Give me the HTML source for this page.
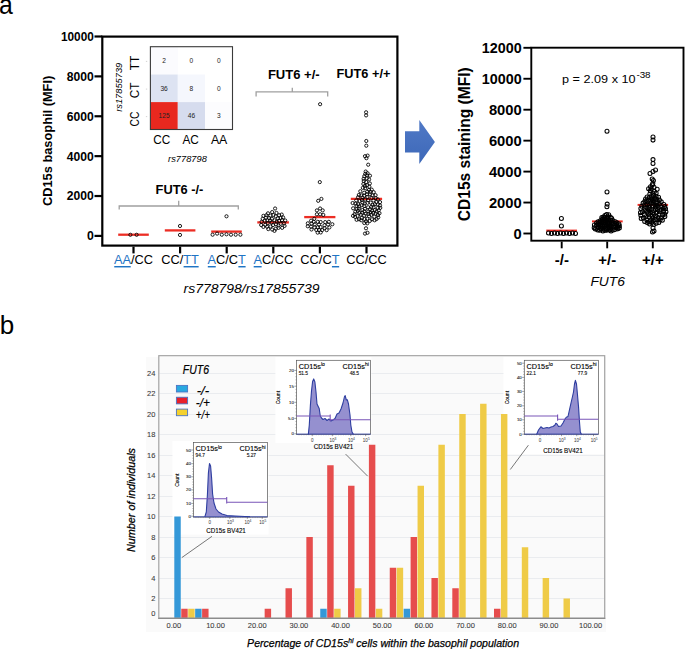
<!DOCTYPE html>
<html><head><meta charset="utf-8"><style>
html,body{margin:0;padding:0;background:#fff;}
svg{display:block;font-family:"Liberation Sans", sans-serif;}
</style></head><body>
<svg width="685" height="649" viewBox="0 0 685 649">
<rect width="685" height="649" fill="#fff"/>
<text x="-0.90" y="14.05" font-size="27" textLength="13.80" lengthAdjust="spacingAndGlyphs">a</text>
<text x="-0.20" y="333.90" font-size="26">b</text>
<text x="51.90" y="140.90" font-size="13.4" font-weight="bold" text-anchor="middle" textLength="130.30" lengthAdjust="spacingAndGlyphs" transform="rotate(-90 51.90 140.90)">CD15s basophil (MFI)</text>
<line x1="94.50" y1="36.50" x2="102.30" y2="36.50" stroke="#000" stroke-width="2.2"/>
<text x="93.80" y="40.90" font-size="12.3" font-weight="bold" text-anchor="end" textLength="32.90" lengthAdjust="spacingAndGlyphs">10000</text>
<line x1="94.50" y1="76.38" x2="102.30" y2="76.38" stroke="#000" stroke-width="2.2"/>
<text x="93.80" y="80.78" font-size="12.3" font-weight="bold" text-anchor="end" textLength="27.00" lengthAdjust="spacingAndGlyphs">8000</text>
<line x1="94.50" y1="116.26" x2="102.30" y2="116.26" stroke="#000" stroke-width="2.2"/>
<text x="93.80" y="120.66" font-size="12.3" font-weight="bold" text-anchor="end" textLength="27.00" lengthAdjust="spacingAndGlyphs">6000</text>
<line x1="94.50" y1="156.14" x2="102.30" y2="156.14" stroke="#000" stroke-width="2.2"/>
<text x="93.80" y="160.54" font-size="12.3" font-weight="bold" text-anchor="end" textLength="27.00" lengthAdjust="spacingAndGlyphs">4000</text>
<line x1="94.50" y1="196.02" x2="102.30" y2="196.02" stroke="#000" stroke-width="2.2"/>
<text x="93.80" y="200.42" font-size="12.3" font-weight="bold" text-anchor="end" textLength="27.00" lengthAdjust="spacingAndGlyphs">2000</text>
<line x1="94.50" y1="235.90" x2="102.30" y2="235.90" stroke="#000" stroke-width="2.2"/>
<text x="93.80" y="240.30" font-size="12.3" font-weight="bold" text-anchor="end">0</text>
<rect x="102.30" y="36.60" width="295.10" height="209.00" fill="none" stroke="#000" stroke-width="2.2"/>
<line x1="133.50" y1="246.70" x2="133.50" y2="253.40" stroke="#000" stroke-width="2.2"/>
<line x1="180.10" y1="246.70" x2="180.10" y2="253.40" stroke="#000" stroke-width="2.2"/>
<line x1="226.70" y1="246.70" x2="226.70" y2="253.40" stroke="#000" stroke-width="2.2"/>
<line x1="273.30" y1="246.70" x2="273.30" y2="253.40" stroke="#000" stroke-width="2.2"/>
<line x1="319.90" y1="246.70" x2="319.90" y2="253.40" stroke="#000" stroke-width="2.2"/>
<line x1="366.50" y1="246.70" x2="366.50" y2="253.40" stroke="#000" stroke-width="2.2"/>
<text x="133.50" y="264.30" font-size="12.8" text-anchor="middle"><tspan fill="#1f74c4">AA</tspan>/CC</text>
<rect x="114.24" y="266.00" width="16.47" height="1.45" fill="#1f74c4"/>
<text x="180.10" y="264.30" font-size="12.8" text-anchor="middle">CC/<tspan fill="#1f74c4">TT</tspan></text>
<rect x="183.60" y="266.00" width="15.04" height="1.45" fill="#1f74c4"/>
<text x="226.70" y="264.30" font-size="12.8" text-anchor="middle"><tspan fill="#1f74c4">A</tspan>C/C<tspan fill="#1f74c4">T</tspan></text>
<rect x="207.80" y="266.00" width="7.94" height="1.45" fill="#1f74c4"/>
<rect x="238.38" y="266.00" width="7.22" height="1.45" fill="#1f74c4"/>
<text x="273.30" y="264.30" font-size="12.8" text-anchor="middle"><tspan fill="#1f74c4">A</tspan>C/CC</text>
<rect x="253.69" y="266.00" width="7.94" height="1.45" fill="#1f74c4"/>
<text x="319.90" y="264.30" font-size="12.8" text-anchor="middle">CC/C<tspan fill="#1f74c4">T</tspan></text>
<rect x="331.93" y="266.00" width="7.22" height="1.45" fill="#1f74c4"/>
<text x="366.50" y="264.30" font-size="12.8" text-anchor="middle">CC/CC</text>
<text x="251.60" y="292.60" font-size="13.7" font-style="italic" text-anchor="middle" textLength="136.00" lengthAdjust="spacingAndGlyphs">rs778798/rs17855739</text>
<rect x="150.40" y="46.70" width="27.40" height="27.80" fill="#fbfbfe"/>
<text x="164.10" y="63.00" font-size="6.6" text-anchor="middle" fill="#222">2</text>
<rect x="177.80" y="46.70" width="27.20" height="27.80" fill="#ffffff"/>
<text x="191.40" y="63.00" font-size="6.6" text-anchor="middle" fill="#222">0</text>
<rect x="205.00" y="46.70" width="27.50" height="27.80" fill="#ffffff"/>
<text x="218.75" y="63.00" font-size="6.6" text-anchor="middle" fill="#222">0</text>
<rect x="150.40" y="74.50" width="27.40" height="27.60" fill="#dde3f2"/>
<text x="164.10" y="90.70" font-size="6.6" text-anchor="middle" fill="#222">36</text>
<rect x="177.80" y="74.50" width="27.20" height="27.60" fill="#f5f7fd"/>
<text x="191.40" y="90.70" font-size="6.6" text-anchor="middle" fill="#222">8</text>
<rect x="205.00" y="74.50" width="27.50" height="27.60" fill="#ffffff"/>
<text x="218.75" y="90.70" font-size="6.6" text-anchor="middle" fill="#222">0</text>
<rect x="150.40" y="102.10" width="27.40" height="27.40" fill="#e8281f"/>
<text x="164.10" y="118.20" font-size="6.6" text-anchor="middle" fill="#222">125</text>
<rect x="177.80" y="102.10" width="27.20" height="27.40" fill="#d6dcee"/>
<text x="191.40" y="118.20" font-size="6.6" text-anchor="middle" fill="#222">46</text>
<rect x="205.00" y="102.10" width="27.50" height="27.40" fill="#fcfcfe"/>
<text x="218.75" y="118.20" font-size="6.6" text-anchor="middle" fill="#222">3</text>
<rect x="150.40" y="46.70" width="82.10" height="82.80" fill="none" stroke="#3a3a3a" stroke-width="1.1"/>
<text x="138.80" y="63.00" font-size="12.0" text-anchor="middle" textLength="14.40" lengthAdjust="spacingAndGlyphs" transform="rotate(-90 138.80 63.00)">TT</text>
<line x1="145.90" y1="61.40" x2="147.20" y2="61.40" stroke="#c8c8c8" stroke-width="0.8"/>
<text x="138.80" y="90.50" font-size="12.0" text-anchor="middle" textLength="15.60" lengthAdjust="spacingAndGlyphs" transform="rotate(-90 138.80 90.50)">CT</text>
<line x1="145.90" y1="89.10" x2="147.20" y2="89.10" stroke="#c8c8c8" stroke-width="0.8"/>
<text x="138.80" y="119.00" font-size="12.0" text-anchor="middle" textLength="15.00" lengthAdjust="spacingAndGlyphs" transform="rotate(-90 138.80 119.00)">CC</text>
<line x1="145.90" y1="116.60" x2="147.20" y2="116.60" stroke="#c8c8c8" stroke-width="0.8"/>
<text x="161.80" y="143.60" font-size="12.2" text-anchor="middle" textLength="17.00" lengthAdjust="spacingAndGlyphs">CC</text>
<text x="190.60" y="143.60" font-size="12.2" text-anchor="middle" textLength="16.40" lengthAdjust="spacingAndGlyphs">AC</text>
<text x="219.10" y="143.60" font-size="12.2" text-anchor="middle" textLength="16.40" lengthAdjust="spacingAndGlyphs">AA</text>
<text x="121.60" y="87.30" font-size="9.3" font-style="italic" text-anchor="middle" transform="rotate(-90 121.60 87.30)">rs17855739</text>
<text x="187.50" y="161.80" font-size="9.3" font-style="italic" text-anchor="middle">rs778798</text>
<path d="M119.20 209.60 V206.00 H238.30 V209.60 M178.70 206.00 V200.80" fill="none" stroke="#a0a0a0" stroke-width="1.3"/>
<path d="M256.10 96.60 V91.90 H327.70 V96.60 M292.30 91.90 V87.80" fill="none" stroke="#a0a0a0" stroke-width="1.3"/>
<text x="179.50" y="193.80" font-size="13.6" font-weight="bold" text-anchor="middle" textLength="47.80" lengthAdjust="spacingAndGlyphs">FUT6 -/-</text>
<text x="293.80" y="78.60" font-size="13.6" font-weight="bold" text-anchor="middle" textLength="51.80" lengthAdjust="spacingAndGlyphs">FUT6 +/-</text>
<text x="363.50" y="77.50" font-size="13.7" font-weight="bold" text-anchor="middle" textLength="53.80" lengthAdjust="spacingAndGlyphs">FUT6 +/+</text>
<path d="M118.2 234.7 H148.8" stroke="#ec2d24" stroke-width="2.3"/>
<path d="M164.8 230.4 H195.4" stroke="#ec2d24" stroke-width="2.3"/>
<path d="M211.2 231.6 H241.8" stroke="#ec2d24" stroke-width="2.3"/>
<path d="M257.3 222.4 H288.9" stroke="#ec2d24" stroke-width="2.3"/>
<path d="M304.2 217.1 H335.4" stroke="#ec2d24" stroke-width="2.3"/>
<path d="M350.8 198.8 H382.1" stroke="#ec2d24" stroke-width="2.3"/>
<circle cx="130.40" cy="234.80" r="1.6" fill="none" stroke="#000" stroke-width="0.88"/>
<circle cx="136.60" cy="234.80" r="1.6" fill="none" stroke="#000" stroke-width="0.88"/>
<circle cx="180.00" cy="226.00" r="1.6" fill="none" stroke="#000" stroke-width="0.88"/>
<circle cx="180.00" cy="234.95" r="1.6" fill="none" stroke="#000" stroke-width="0.88"/>
<circle cx="226.50" cy="216.30" r="1.6" fill="none" stroke="#000" stroke-width="0.88"/>
<circle cx="212.60" cy="234.70" r="1.6" fill="none" stroke="#000" stroke-width="0.88"/>
<circle cx="217.10" cy="233.60" r="1.6" fill="none" stroke="#000" stroke-width="0.88"/>
<circle cx="221.80" cy="234.70" r="1.6" fill="none" stroke="#000" stroke-width="0.88"/>
<circle cx="226.50" cy="234.30" r="1.6" fill="none" stroke="#000" stroke-width="0.88"/>
<circle cx="231.00" cy="234.70" r="1.6" fill="none" stroke="#000" stroke-width="0.88"/>
<circle cx="235.70" cy="234.70" r="1.6" fill="none" stroke="#000" stroke-width="0.88"/>
<circle cx="240.40" cy="234.70" r="1.6" fill="none" stroke="#000" stroke-width="0.88"/>
<circle cx="275.10" cy="208.50" r="1.6" fill="none" stroke="#000" stroke-width="0.88"/>
<circle cx="274.65" cy="220.32" r="1.6" fill="none" stroke="#000" stroke-width="0.88"/>
<circle cx="272.21" cy="229.52" r="1.6" fill="none" stroke="#000" stroke-width="0.88"/>
<circle cx="273.41" cy="215.10" r="1.6" fill="none" stroke="#000" stroke-width="0.88"/>
<circle cx="280.72" cy="223.78" r="1.6" fill="none" stroke="#000" stroke-width="0.88"/>
<circle cx="267.99" cy="213.34" r="1.6" fill="none" stroke="#000" stroke-width="0.88"/>
<circle cx="261.19" cy="225.02" r="1.6" fill="none" stroke="#000" stroke-width="0.88"/>
<circle cx="276.10" cy="224.25" r="1.6" fill="none" stroke="#000" stroke-width="0.88"/>
<circle cx="261.65" cy="221.80" r="1.6" fill="none" stroke="#000" stroke-width="0.88"/>
<circle cx="266.39" cy="215.21" r="1.6" fill="none" stroke="#000" stroke-width="0.88"/>
<circle cx="272.16" cy="212.09" r="1.6" fill="none" stroke="#000" stroke-width="0.88"/>
<circle cx="282.00" cy="220.09" r="1.6" fill="none" stroke="#000" stroke-width="0.88"/>
<circle cx="276.75" cy="221.62" r="1.6" fill="none" stroke="#000" stroke-width="0.88"/>
<circle cx="267.33" cy="220.42" r="1.6" fill="none" stroke="#000" stroke-width="0.88"/>
<circle cx="278.50" cy="227.88" r="1.6" fill="none" stroke="#000" stroke-width="0.88"/>
<circle cx="266.07" cy="217.65" r="1.6" fill="none" stroke="#000" stroke-width="0.88"/>
<circle cx="270.51" cy="226.44" r="1.6" fill="none" stroke="#000" stroke-width="0.88"/>
<circle cx="276.47" cy="212.92" r="1.6" fill="none" stroke="#000" stroke-width="0.88"/>
<circle cx="267.11" cy="226.68" r="1.6" fill="none" stroke="#000" stroke-width="0.88"/>
<circle cx="271.73" cy="222.41" r="1.6" fill="none" stroke="#000" stroke-width="0.88"/>
<circle cx="279.13" cy="215.22" r="1.6" fill="none" stroke="#000" stroke-width="0.88"/>
<circle cx="283.11" cy="217.43" r="1.6" fill="none" stroke="#000" stroke-width="0.88"/>
<circle cx="270.35" cy="215.61" r="1.6" fill="none" stroke="#000" stroke-width="0.88"/>
<circle cx="275.73" cy="216.24" r="1.6" fill="none" stroke="#000" stroke-width="0.88"/>
<circle cx="271.88" cy="218.75" r="1.6" fill="none" stroke="#000" stroke-width="0.88"/>
<circle cx="284.55" cy="225.92" r="1.6" fill="none" stroke="#000" stroke-width="0.88"/>
<circle cx="275.79" cy="228.70" r="1.6" fill="none" stroke="#000" stroke-width="0.88"/>
<circle cx="267.73" cy="223.13" r="1.6" fill="none" stroke="#000" stroke-width="0.88"/>
<circle cx="279.09" cy="220.90" r="1.6" fill="none" stroke="#000" stroke-width="0.88"/>
<circle cx="277.91" cy="218.36" r="1.6" fill="none" stroke="#000" stroke-width="0.88"/>
<circle cx="273.03" cy="225.12" r="1.6" fill="none" stroke="#000" stroke-width="0.88"/>
<circle cx="284.03" cy="223.48" r="1.6" fill="none" stroke="#000" stroke-width="0.88"/>
<circle cx="282.17" cy="227.82" r="1.6" fill="none" stroke="#000" stroke-width="0.88"/>
<circle cx="265.28" cy="224.85" r="1.6" fill="none" stroke="#000" stroke-width="0.88"/>
<circle cx="264.75" cy="220.77" r="1.6" fill="none" stroke="#000" stroke-width="0.88"/>
<circle cx="280.59" cy="218.03" r="1.6" fill="none" stroke="#000" stroke-width="0.88"/>
<circle cx="268.31" cy="229.10" r="1.6" fill="none" stroke="#000" stroke-width="0.88"/>
<circle cx="263.38" cy="226.90" r="1.6" fill="none" stroke="#000" stroke-width="0.88"/>
<circle cx="262.66" cy="218.83" r="1.6" fill="none" stroke="#000" stroke-width="0.88"/>
<circle cx="281.73" cy="214.57" r="1.6" fill="none" stroke="#000" stroke-width="0.88"/>
<circle cx="285.24" cy="220.50" r="1.6" fill="none" stroke="#000" stroke-width="0.88"/>
<circle cx="269.12" cy="218.04" r="1.6" fill="none" stroke="#000" stroke-width="0.88"/>
<circle cx="263.41" cy="215.82" r="1.6" fill="none" stroke="#000" stroke-width="0.88"/>
<circle cx="274.47" cy="230.85" r="1.6" fill="none" stroke="#000" stroke-width="0.88"/>
<circle cx="270.15" cy="220.50" r="1.6" fill="none" stroke="#000" stroke-width="0.88"/>
<circle cx="278.45" cy="225.42" r="1.6" fill="none" stroke="#000" stroke-width="0.88"/>
<circle cx="320.10" cy="104.20" r="1.6" fill="none" stroke="#000" stroke-width="0.88"/>
<circle cx="319.80" cy="182.10" r="1.6" fill="none" stroke="#000" stroke-width="0.88"/>
<circle cx="318.20" cy="200.80" r="1.6" fill="none" stroke="#000" stroke-width="0.88"/>
<circle cx="321.40" cy="198.90" r="1.6" fill="none" stroke="#000" stroke-width="0.88"/>
<circle cx="316.90" cy="210.40" r="1.6" fill="none" stroke="#000" stroke-width="0.88"/>
<circle cx="320.10" cy="208.50" r="1.6" fill="none" stroke="#000" stroke-width="0.88"/>
<circle cx="322.70" cy="210.40" r="1.6" fill="none" stroke="#000" stroke-width="0.88"/>
<circle cx="316.90" cy="214.30" r="1.6" fill="none" stroke="#000" stroke-width="0.88"/>
<circle cx="320.10" cy="214.30" r="1.6" fill="none" stroke="#000" stroke-width="0.88"/>
<circle cx="323.30" cy="214.90" r="1.6" fill="none" stroke="#000" stroke-width="0.88"/>
<circle cx="314.30" cy="218.80" r="1.6" fill="none" stroke="#000" stroke-width="0.88"/>
<circle cx="311.10" cy="220.70" r="1.6" fill="none" stroke="#000" stroke-width="0.88"/>
<circle cx="307.82" cy="223.33" r="1.6" fill="none" stroke="#000" stroke-width="0.88"/>
<circle cx="314.62" cy="227.42" r="1.6" fill="none" stroke="#000" stroke-width="0.88"/>
<circle cx="326.66" cy="230.14" r="1.6" fill="none" stroke="#000" stroke-width="0.88"/>
<circle cx="329.37" cy="227.44" r="1.6" fill="none" stroke="#000" stroke-width="0.88"/>
<circle cx="325.20" cy="222.09" r="1.6" fill="none" stroke="#000" stroke-width="0.88"/>
<circle cx="314.75" cy="224.41" r="1.6" fill="none" stroke="#000" stroke-width="0.88"/>
<circle cx="332.34" cy="224.26" r="1.6" fill="none" stroke="#000" stroke-width="0.88"/>
<circle cx="320.70" cy="222.05" r="1.6" fill="none" stroke="#000" stroke-width="0.88"/>
<circle cx="322.19" cy="230.11" r="1.6" fill="none" stroke="#000" stroke-width="0.88"/>
<circle cx="311.13" cy="226.64" r="1.6" fill="none" stroke="#000" stroke-width="0.88"/>
<circle cx="318.98" cy="224.55" r="1.6" fill="none" stroke="#000" stroke-width="0.88"/>
<circle cx="324.50" cy="225.27" r="1.6" fill="none" stroke="#000" stroke-width="0.88"/>
<circle cx="319.00" cy="229.99" r="1.6" fill="none" stroke="#000" stroke-width="0.88"/>
<circle cx="313.74" cy="221.83" r="1.6" fill="none" stroke="#000" stroke-width="0.88"/>
<circle cx="320.63" cy="227.09" r="1.6" fill="none" stroke="#000" stroke-width="0.88"/>
<circle cx="316.29" cy="229.94" r="1.6" fill="none" stroke="#000" stroke-width="0.88"/>
<circle cx="328.85" cy="221.81" r="1.6" fill="none" stroke="#000" stroke-width="0.88"/>
<circle cx="317.79" cy="221.83" r="1.6" fill="none" stroke="#000" stroke-width="0.88"/>
<circle cx="307.77" cy="226.30" r="1.6" fill="none" stroke="#000" stroke-width="0.88"/>
<circle cx="317.65" cy="232.62" r="1.6" fill="none" stroke="#000" stroke-width="0.88"/>
<circle cx="328.07" cy="224.56" r="1.6" fill="none" stroke="#000" stroke-width="0.88"/>
<circle cx="320.74" cy="232.45" r="1.6" fill="none" stroke="#000" stroke-width="0.88"/>
<circle cx="311.64" cy="223.69" r="1.6" fill="none" stroke="#000" stroke-width="0.88"/>
<circle cx="311.46" cy="229.50" r="1.6" fill="none" stroke="#000" stroke-width="0.88"/>
<circle cx="324.63" cy="228.17" r="1.6" fill="none" stroke="#000" stroke-width="0.88"/>
<circle cx="317.76" cy="227.34" r="1.6" fill="none" stroke="#000" stroke-width="0.88"/>
<circle cx="366.10" cy="112.30" r="1.6" fill="none" stroke="#000" stroke-width="0.88"/>
<circle cx="366.10" cy="115.40" r="1.6" fill="none" stroke="#000" stroke-width="0.88"/>
<circle cx="366.30" cy="141.00" r="1.6" fill="none" stroke="#000" stroke-width="0.88"/>
<circle cx="366.30" cy="145.70" r="1.6" fill="none" stroke="#000" stroke-width="0.88"/>
<circle cx="365.00" cy="156.20" r="1.6" fill="none" stroke="#000" stroke-width="0.88"/>
<circle cx="367.60" cy="155.60" r="1.6" fill="none" stroke="#000" stroke-width="0.88"/>
<circle cx="366.40" cy="158.20" r="1.6" fill="none" stroke="#000" stroke-width="0.88"/>
<circle cx="368.20" cy="164.70" r="1.6" fill="none" stroke="#000" stroke-width="0.88"/>
<circle cx="366.00" cy="228.30" r="1.6" fill="none" stroke="#000" stroke-width="0.88"/>
<circle cx="365.00" cy="233.60" r="1.6" fill="none" stroke="#000" stroke-width="0.88"/>
<circle cx="367.50" cy="232.80" r="1.6" fill="none" stroke="#000" stroke-width="0.88"/>
<circle cx="357.57" cy="215.99" r="1.6" fill="none" stroke="#000" stroke-width="0.88"/>
<circle cx="356.60" cy="219.81" r="1.6" fill="none" stroke="#000" stroke-width="0.88"/>
<circle cx="365.24" cy="173.86" r="1.6" fill="none" stroke="#000" stroke-width="0.88"/>
<circle cx="367.04" cy="185.21" r="1.6" fill="none" stroke="#000" stroke-width="0.88"/>
<circle cx="364.67" cy="203.49" r="1.6" fill="none" stroke="#000" stroke-width="0.88"/>
<circle cx="373.07" cy="212.86" r="1.6" fill="none" stroke="#000" stroke-width="0.88"/>
<circle cx="378.28" cy="217.41" r="1.6" fill="none" stroke="#000" stroke-width="0.88"/>
<circle cx="373.50" cy="200.38" r="1.6" fill="none" stroke="#000" stroke-width="0.88"/>
<circle cx="363.62" cy="178.79" r="1.6" fill="none" stroke="#000" stroke-width="0.88"/>
<circle cx="369.33" cy="186.68" r="1.6" fill="none" stroke="#000" stroke-width="0.88"/>
<circle cx="360.32" cy="191.25" r="1.6" fill="none" stroke="#000" stroke-width="0.88"/>
<circle cx="373.56" cy="207.30" r="1.6" fill="none" stroke="#000" stroke-width="0.88"/>
<circle cx="358.09" cy="204.17" r="1.6" fill="none" stroke="#000" stroke-width="0.88"/>
<circle cx="369.96" cy="175.69" r="1.6" fill="none" stroke="#000" stroke-width="0.88"/>
<circle cx="356.47" cy="205.88" r="1.6" fill="none" stroke="#000" stroke-width="0.88"/>
<circle cx="356.21" cy="200.43" r="1.6" fill="none" stroke="#000" stroke-width="0.88"/>
<circle cx="366.85" cy="178.38" r="1.6" fill="none" stroke="#000" stroke-width="0.88"/>
<circle cx="367.25" cy="218.64" r="1.6" fill="none" stroke="#000" stroke-width="0.88"/>
<circle cx="370.34" cy="191.78" r="1.6" fill="none" stroke="#000" stroke-width="0.88"/>
<circle cx="355.33" cy="211.67" r="1.6" fill="none" stroke="#000" stroke-width="0.88"/>
<circle cx="371.33" cy="206.88" r="1.6" fill="none" stroke="#000" stroke-width="0.88"/>
<circle cx="365.69" cy="171.54" r="1.6" fill="none" stroke="#000" stroke-width="0.88"/>
<circle cx="372.00" cy="219.29" r="1.6" fill="none" stroke="#000" stroke-width="0.88"/>
<circle cx="368.12" cy="207.26" r="1.6" fill="none" stroke="#000" stroke-width="0.88"/>
<circle cx="370.67" cy="202.63" r="1.6" fill="none" stroke="#000" stroke-width="0.88"/>
<circle cx="377.75" cy="207.91" r="1.6" fill="none" stroke="#000" stroke-width="0.88"/>
<circle cx="368.41" cy="211.43" r="1.6" fill="none" stroke="#000" stroke-width="0.88"/>
<circle cx="370.02" cy="194.38" r="1.6" fill="none" stroke="#000" stroke-width="0.88"/>
<circle cx="364.19" cy="192.71" r="1.6" fill="none" stroke="#000" stroke-width="0.88"/>
<circle cx="367.07" cy="194.34" r="1.6" fill="none" stroke="#000" stroke-width="0.88"/>
<circle cx="375.64" cy="198.02" r="1.6" fill="none" stroke="#000" stroke-width="0.88"/>
<circle cx="354.62" cy="214.15" r="1.6" fill="none" stroke="#000" stroke-width="0.88"/>
<circle cx="361.25" cy="195.39" r="1.6" fill="none" stroke="#000" stroke-width="0.88"/>
<circle cx="373.70" cy="192.20" r="1.6" fill="none" stroke="#000" stroke-width="0.88"/>
<circle cx="363.74" cy="181.06" r="1.6" fill="none" stroke="#000" stroke-width="0.88"/>
<circle cx="361.89" cy="199.93" r="1.6" fill="none" stroke="#000" stroke-width="0.88"/>
<circle cx="378.74" cy="210.21" r="1.6" fill="none" stroke="#000" stroke-width="0.88"/>
<circle cx="362.85" cy="187.83" r="1.6" fill="none" stroke="#000" stroke-width="0.88"/>
<circle cx="363.36" cy="184.00" r="1.6" fill="none" stroke="#000" stroke-width="0.88"/>
<circle cx="365.67" cy="213.69" r="1.6" fill="none" stroke="#000" stroke-width="0.88"/>
<circle cx="366.21" cy="182.05" r="1.6" fill="none" stroke="#000" stroke-width="0.88"/>
<circle cx="379.49" cy="213.21" r="1.6" fill="none" stroke="#000" stroke-width="0.88"/>
<circle cx="367.55" cy="202.83" r="1.6" fill="none" stroke="#000" stroke-width="0.88"/>
<circle cx="367.26" cy="223.34" r="1.6" fill="none" stroke="#000" stroke-width="0.88"/>
<circle cx="355.58" cy="203.65" r="1.6" fill="none" stroke="#000" stroke-width="0.88"/>
<circle cx="361.59" cy="205.29" r="1.6" fill="none" stroke="#000" stroke-width="0.88"/>
<circle cx="371.52" cy="197.93" r="1.6" fill="none" stroke="#000" stroke-width="0.88"/>
<circle cx="372.39" cy="195.40" r="1.6" fill="none" stroke="#000" stroke-width="0.88"/>
<circle cx="367.27" cy="191.63" r="1.6" fill="none" stroke="#000" stroke-width="0.88"/>
<circle cx="375.51" cy="213.61" r="1.6" fill="none" stroke="#000" stroke-width="0.88"/>
<circle cx="377.82" cy="204.40" r="1.6" fill="none" stroke="#000" stroke-width="0.88"/>
<circle cx="367.37" cy="196.98" r="1.6" fill="none" stroke="#000" stroke-width="0.88"/>
<circle cx="371.75" cy="189.63" r="1.6" fill="none" stroke="#000" stroke-width="0.88"/>
<circle cx="356.60" cy="208.98" r="1.6" fill="none" stroke="#000" stroke-width="0.88"/>
<circle cx="369.85" cy="183.47" r="1.6" fill="none" stroke="#000" stroke-width="0.88"/>
<circle cx="371.28" cy="214.80" r="1.6" fill="none" stroke="#000" stroke-width="0.88"/>
<circle cx="369.82" cy="220.92" r="1.6" fill="none" stroke="#000" stroke-width="0.88"/>
<circle cx="361.74" cy="217.99" r="1.6" fill="none" stroke="#000" stroke-width="0.88"/>
<circle cx="359.67" cy="200.91" r="1.6" fill="none" stroke="#000" stroke-width="0.88"/>
<circle cx="364.96" cy="208.89" r="1.6" fill="none" stroke="#000" stroke-width="0.88"/>
<circle cx="358.09" cy="197.27" r="1.6" fill="none" stroke="#000" stroke-width="0.88"/>
<circle cx="369.96" cy="209.41" r="1.6" fill="none" stroke="#000" stroke-width="0.88"/>
<circle cx="359.01" cy="219.27" r="1.6" fill="none" stroke="#000" stroke-width="0.88"/>
<circle cx="369.10" cy="179.45" r="1.6" fill="none" stroke="#000" stroke-width="0.88"/>
<circle cx="380.05" cy="205.46" r="1.6" fill="none" stroke="#000" stroke-width="0.88"/>
<circle cx="374.94" cy="204.17" r="1.6" fill="none" stroke="#000" stroke-width="0.88"/>
<circle cx="358.88" cy="208.67" r="1.6" fill="none" stroke="#000" stroke-width="0.88"/>
<circle cx="364.20" cy="215.59" r="1.6" fill="none" stroke="#000" stroke-width="0.88"/>
<circle cx="352.62" cy="203.04" r="1.6" fill="none" stroke="#000" stroke-width="0.88"/>
<circle cx="380.05" cy="202.10" r="1.6" fill="none" stroke="#000" stroke-width="0.88"/>
<circle cx="364.30" cy="176.23" r="1.6" fill="none" stroke="#000" stroke-width="0.88"/>
<circle cx="362.32" cy="210.08" r="1.6" fill="none" stroke="#000" stroke-width="0.88"/>
<circle cx="353.02" cy="215.85" r="1.6" fill="none" stroke="#000" stroke-width="0.88"/>
<circle cx="366.00" cy="221.45" r="1.6" fill="none" stroke="#000" stroke-width="0.88"/>
<circle cx="374.78" cy="210.06" r="1.6" fill="none" stroke="#000" stroke-width="0.88"/>
<circle cx="365.14" cy="188.22" r="1.6" fill="none" stroke="#000" stroke-width="0.88"/>
<circle cx="368.09" cy="200.22" r="1.6" fill="none" stroke="#000" stroke-width="0.88"/>
<circle cx="365.16" cy="199.58" r="1.6" fill="none" stroke="#000" stroke-width="0.88"/>
<circle cx="364.27" cy="223.03" r="1.6" fill="none" stroke="#000" stroke-width="0.88"/>
<circle cx="362.13" cy="212.63" r="1.6" fill="none" stroke="#000" stroke-width="0.88"/>
<circle cx="364.17" cy="195.73" r="1.6" fill="none" stroke="#000" stroke-width="0.88"/>
<circle cx="364.86" cy="185.84" r="1.6" fill="none" stroke="#000" stroke-width="0.88"/>
<circle cx="376.38" cy="202.01" r="1.6" fill="none" stroke="#000" stroke-width="0.88"/>
<circle cx="369.02" cy="189.90" r="1.6" fill="none" stroke="#000" stroke-width="0.88"/>
<circle cx="359.40" cy="206.39" r="1.6" fill="none" stroke="#000" stroke-width="0.88"/>
<circle cx="369.10" cy="216.34" r="1.6" fill="none" stroke="#000" stroke-width="0.88"/>
<circle cx="367.05" cy="175.43" r="1.6" fill="none" stroke="#000" stroke-width="0.88"/>
<circle cx="374.35" cy="216.67" r="1.6" fill="none" stroke="#000" stroke-width="0.88"/>
<circle cx="378.00" cy="215.01" r="1.6" fill="none" stroke="#000" stroke-width="0.88"/>
<circle cx="364.32" cy="205.96" r="1.6" fill="none" stroke="#000" stroke-width="0.88"/>
<circle cx="374.60" cy="220.29" r="1.6" fill="none" stroke="#000" stroke-width="0.88"/>
<circle cx="368.35" cy="213.91" r="1.6" fill="none" stroke="#000" stroke-width="0.88"/>
<circle cx="367.55" cy="173.23" r="1.6" fill="none" stroke="#000" stroke-width="0.88"/>
<circle cx="361.17" cy="220.26" r="1.6" fill="none" stroke="#000" stroke-width="0.88"/>
<circle cx="357.85" cy="210.86" r="1.6" fill="none" stroke="#000" stroke-width="0.88"/>
<circle cx="375.58" cy="195.17" r="1.6" fill="none" stroke="#000" stroke-width="0.88"/>
<circle cx="353.14" cy="208.32" r="1.6" fill="none" stroke="#000" stroke-width="0.88"/>
<circle cx="360.82" cy="214.62" r="1.6" fill="none" stroke="#000" stroke-width="0.88"/>
<circle cx="355.15" cy="216.87" r="1.6" fill="none" stroke="#000" stroke-width="0.88"/>
<circle cx="362.49" cy="197.55" r="1.6" fill="none" stroke="#000" stroke-width="0.88"/>
<circle cx="362.52" cy="202.59" r="1.6" fill="none" stroke="#000" stroke-width="0.88"/>
<circle cx="376.55" cy="219.02" r="1.6" fill="none" stroke="#000" stroke-width="0.88"/>
<circle cx="359.34" cy="212.84" r="1.6" fill="none" stroke="#000" stroke-width="0.88"/>
<circle cx="372.06" cy="210.74" r="1.6" fill="none" stroke="#000" stroke-width="0.88"/>
<circle cx="377.90" cy="199.42" r="1.6" fill="none" stroke="#000" stroke-width="0.88"/>
<circle cx="376.48" cy="211.55" r="1.6" fill="none" stroke="#000" stroke-width="0.88"/>
<circle cx="372.63" cy="204.79" r="1.6" fill="none" stroke="#000" stroke-width="0.88"/>
<circle cx="358.82" cy="194.97" r="1.6" fill="none" stroke="#000" stroke-width="0.88"/>
<circle cx="370.50" cy="212.49" r="1.6" fill="none" stroke="#000" stroke-width="0.88"/>
<circle cx="364.42" cy="211.28" r="1.6" fill="none" stroke="#000" stroke-width="0.88"/>
<circle cx="380.27" cy="207.85" r="1.6" fill="none" stroke="#000" stroke-width="0.88"/>
<circle cx="364.55" cy="218.95" r="1.6" fill="none" stroke="#000" stroke-width="0.88"/>
<defs><linearGradient id="ag" x1="0" y1="0" x2="0" y2="1"><stop offset="0" stop-color="#5079c6"/><stop offset="1" stop-color="#3d68b8"/></linearGradient></defs>
<path d="M405 131.2 H419.3 V120.1 L434.9 142 L419.3 164.1 V152.5 H405 Z" fill="url(#ag)"/>
<text x="470.10" y="144.25" font-size="16.4" font-weight="bold" text-anchor="middle" textLength="153.80" lengthAdjust="spacingAndGlyphs" transform="rotate(-90 470.10 144.25)">CD15s staining (MFI)</text>
<line x1="523.40" y1="47.80" x2="531.30" y2="47.80" stroke="#000" stroke-width="1.9"/>
<text x="521.70" y="53.05" font-size="14.7" font-weight="bold" text-anchor="end" textLength="39.90" lengthAdjust="spacingAndGlyphs">12000</text>
<line x1="523.40" y1="78.75" x2="531.30" y2="78.75" stroke="#000" stroke-width="1.9"/>
<text x="521.70" y="84.00" font-size="14.7" font-weight="bold" text-anchor="end" textLength="39.90" lengthAdjust="spacingAndGlyphs">10000</text>
<line x1="523.40" y1="109.70" x2="531.30" y2="109.70" stroke="#000" stroke-width="1.9"/>
<text x="521.70" y="114.95" font-size="14.7" font-weight="bold" text-anchor="end" textLength="32.80" lengthAdjust="spacingAndGlyphs">8000</text>
<line x1="523.40" y1="140.65" x2="531.30" y2="140.65" stroke="#000" stroke-width="1.9"/>
<text x="521.70" y="145.90" font-size="14.7" font-weight="bold" text-anchor="end" textLength="32.80" lengthAdjust="spacingAndGlyphs">6000</text>
<line x1="523.40" y1="171.60" x2="531.30" y2="171.60" stroke="#000" stroke-width="1.9"/>
<text x="521.70" y="176.85" font-size="14.7" font-weight="bold" text-anchor="end" textLength="32.80" lengthAdjust="spacingAndGlyphs">4000</text>
<line x1="523.40" y1="202.55" x2="531.30" y2="202.55" stroke="#000" stroke-width="1.9"/>
<text x="521.70" y="207.80" font-size="14.7" font-weight="bold" text-anchor="end" textLength="32.80" lengthAdjust="spacingAndGlyphs">2000</text>
<line x1="523.40" y1="233.50" x2="531.30" y2="233.50" stroke="#000" stroke-width="1.9"/>
<text x="521.70" y="238.75" font-size="14.7" font-weight="bold" text-anchor="end">0</text>
<rect x="531.30" y="47.70" width="152.20" height="193.00" fill="none" stroke="#000" stroke-width="1.9"/>
<line x1="561.70" y1="241.60" x2="561.70" y2="248.30" stroke="#000" stroke-width="1.9"/>
<line x1="607.20" y1="241.60" x2="607.20" y2="248.30" stroke="#000" stroke-width="1.9"/>
<line x1="652.80" y1="241.60" x2="652.80" y2="248.30" stroke="#000" stroke-width="1.9"/>
<text x="561.90" y="264.60" font-size="15" font-weight="bold" text-anchor="middle">-/-</text>
<text x="607.20" y="264.60" font-size="15" font-weight="bold" text-anchor="middle">+/-</text>
<text x="652.80" y="264.60" font-size="15" font-weight="bold" text-anchor="middle">+/+</text>
<text x="607.70" y="286.00" font-size="13.5" font-style="italic" text-anchor="middle" textLength="34.50" lengthAdjust="spacingAndGlyphs">FUT6</text>
<text x="562.00" y="82.60" font-size="11.8" textLength="73.60" lengthAdjust="spacingAndGlyphs">p = 2.09 x 10</text>
<text x="636.40" y="77.60" font-size="8.6" textLength="14.20" lengthAdjust="spacingAndGlyphs">-38</text>
<path d="M546.3 230.6 H577" stroke="#ec2d24" stroke-width="2"/>
<path d="M592 221.4 H622.7" stroke="#ec2d24" stroke-width="2"/>
<path d="M637.6 204.9 H668.1" stroke="#ec2d24" stroke-width="2"/>
<circle cx="548.50" cy="233.00" r="2.0" fill="none" stroke="#000" stroke-width="1.05"/>
<circle cx="551.50" cy="233.50" r="2.0" fill="none" stroke="#000" stroke-width="1.05"/>
<circle cx="554.50" cy="233.00" r="2.0" fill="none" stroke="#000" stroke-width="1.05"/>
<circle cx="557.50" cy="233.50" r="2.0" fill="none" stroke="#000" stroke-width="1.05"/>
<circle cx="560.50" cy="233.00" r="2.0" fill="none" stroke="#000" stroke-width="1.05"/>
<circle cx="563.50" cy="233.50" r="2.0" fill="none" stroke="#000" stroke-width="1.05"/>
<circle cx="566.50" cy="233.00" r="2.0" fill="none" stroke="#000" stroke-width="1.05"/>
<circle cx="569.50" cy="233.50" r="2.0" fill="none" stroke="#000" stroke-width="1.05"/>
<circle cx="572.50" cy="233.00" r="2.0" fill="none" stroke="#000" stroke-width="1.05"/>
<circle cx="575.50" cy="233.50" r="2.0" fill="none" stroke="#000" stroke-width="1.05"/>
<circle cx="561.40" cy="218.40" r="2.0" fill="none" stroke="#000" stroke-width="1.05"/>
<circle cx="561.40" cy="225.90" r="2.0" fill="none" stroke="#000" stroke-width="1.05"/>
<circle cx="607.00" cy="131.20" r="2.0" fill="none" stroke="#000" stroke-width="1.05"/>
<circle cx="607.00" cy="191.90" r="2.0" fill="none" stroke="#000" stroke-width="1.05"/>
<circle cx="607.20" cy="204.10" r="2.0" fill="none" stroke="#000" stroke-width="1.05"/>
<circle cx="606.90" cy="206.80" r="2.0" fill="none" stroke="#000" stroke-width="1.05"/>
<circle cx="607.32" cy="221.30" r="2.0" fill="none" stroke="#000" stroke-width="1.05"/>
<circle cx="594.38" cy="224.95" r="2.0" fill="none" stroke="#000" stroke-width="1.05"/>
<circle cx="605.48" cy="221.38" r="2.0" fill="none" stroke="#000" stroke-width="1.05"/>
<circle cx="611.15" cy="228.57" r="2.0" fill="none" stroke="#000" stroke-width="1.05"/>
<circle cx="610.28" cy="216.99" r="2.0" fill="none" stroke="#000" stroke-width="1.05"/>
<circle cx="619.32" cy="225.88" r="2.0" fill="none" stroke="#000" stroke-width="1.05"/>
<circle cx="608.94" cy="226.02" r="2.0" fill="none" stroke="#000" stroke-width="1.05"/>
<circle cx="596.94" cy="228.25" r="2.0" fill="none" stroke="#000" stroke-width="1.05"/>
<circle cx="609.25" cy="229.94" r="2.0" fill="none" stroke="#000" stroke-width="1.05"/>
<circle cx="611.38" cy="225.92" r="2.0" fill="none" stroke="#000" stroke-width="1.05"/>
<circle cx="616.59" cy="224.62" r="2.0" fill="none" stroke="#000" stroke-width="1.05"/>
<circle cx="596.62" cy="225.29" r="2.0" fill="none" stroke="#000" stroke-width="1.05"/>
<circle cx="601.82" cy="217.63" r="2.0" fill="none" stroke="#000" stroke-width="1.05"/>
<circle cx="611.60" cy="222.17" r="2.0" fill="none" stroke="#000" stroke-width="1.05"/>
<circle cx="604.93" cy="215.50" r="2.0" fill="none" stroke="#000" stroke-width="1.05"/>
<circle cx="608.59" cy="219.75" r="2.0" fill="none" stroke="#000" stroke-width="1.05"/>
<circle cx="605.84" cy="223.76" r="2.0" fill="none" stroke="#000" stroke-width="1.05"/>
<circle cx="599.75" cy="230.14" r="2.0" fill="none" stroke="#000" stroke-width="1.05"/>
<circle cx="600.83" cy="228.11" r="2.0" fill="none" stroke="#000" stroke-width="1.05"/>
<circle cx="605.11" cy="218.49" r="2.0" fill="none" stroke="#000" stroke-width="1.05"/>
<circle cx="599.65" cy="222.82" r="2.0" fill="none" stroke="#000" stroke-width="1.05"/>
<circle cx="604.89" cy="226.43" r="2.0" fill="none" stroke="#000" stroke-width="1.05"/>
<circle cx="600.38" cy="220.66" r="2.0" fill="none" stroke="#000" stroke-width="1.05"/>
<circle cx="602.31" cy="221.22" r="2.0" fill="none" stroke="#000" stroke-width="1.05"/>
<circle cx="609.74" cy="223.55" r="2.0" fill="none" stroke="#000" stroke-width="1.05"/>
<circle cx="602.98" cy="228.97" r="2.0" fill="none" stroke="#000" stroke-width="1.05"/>
<circle cx="597.71" cy="229.96" r="2.0" fill="none" stroke="#000" stroke-width="1.05"/>
<circle cx="607.49" cy="228.44" r="2.0" fill="none" stroke="#000" stroke-width="1.05"/>
<circle cx="604.79" cy="230.23" r="2.0" fill="none" stroke="#000" stroke-width="1.05"/>
<circle cx="616.46" cy="227.71" r="2.0" fill="none" stroke="#000" stroke-width="1.05"/>
<circle cx="613.18" cy="223.68" r="2.0" fill="none" stroke="#000" stroke-width="1.05"/>
<circle cx="617.79" cy="228.87" r="2.0" fill="none" stroke="#000" stroke-width="1.05"/>
<circle cx="611.63" cy="218.31" r="2.0" fill="none" stroke="#000" stroke-width="1.05"/>
<circle cx="611.07" cy="231.09" r="2.0" fill="none" stroke="#000" stroke-width="1.05"/>
<circle cx="612.86" cy="220.48" r="2.0" fill="none" stroke="#000" stroke-width="1.05"/>
<circle cx="606.58" cy="214.42" r="2.0" fill="none" stroke="#000" stroke-width="1.05"/>
<circle cx="607.76" cy="216.77" r="2.0" fill="none" stroke="#000" stroke-width="1.05"/>
<circle cx="595.33" cy="229.01" r="2.0" fill="none" stroke="#000" stroke-width="1.05"/>
<circle cx="599.85" cy="225.18" r="2.0" fill="none" stroke="#000" stroke-width="1.05"/>
<circle cx="606.60" cy="230.14" r="2.0" fill="none" stroke="#000" stroke-width="1.05"/>
<circle cx="602.38" cy="226.56" r="2.0" fill="none" stroke="#000" stroke-width="1.05"/>
<circle cx="603.68" cy="216.94" r="2.0" fill="none" stroke="#000" stroke-width="1.05"/>
<circle cx="596.57" cy="222.94" r="2.0" fill="none" stroke="#000" stroke-width="1.05"/>
<circle cx="614.82" cy="229.61" r="2.0" fill="none" stroke="#000" stroke-width="1.05"/>
<circle cx="603.81" cy="220.31" r="2.0" fill="none" stroke="#000" stroke-width="1.05"/>
<circle cx="614.05" cy="227.30" r="2.0" fill="none" stroke="#000" stroke-width="1.05"/>
<circle cx="615.26" cy="221.69" r="2.0" fill="none" stroke="#000" stroke-width="1.05"/>
<circle cx="601.67" cy="223.08" r="2.0" fill="none" stroke="#000" stroke-width="1.05"/>
<circle cx="598.15" cy="223.99" r="2.0" fill="none" stroke="#000" stroke-width="1.05"/>
<circle cx="609.02" cy="221.95" r="2.0" fill="none" stroke="#000" stroke-width="1.05"/>
<circle cx="604.14" cy="222.66" r="2.0" fill="none" stroke="#000" stroke-width="1.05"/>
<circle cx="606.71" cy="225.43" r="2.0" fill="none" stroke="#000" stroke-width="1.05"/>
<circle cx="602.48" cy="224.65" r="2.0" fill="none" stroke="#000" stroke-width="1.05"/>
<circle cx="594.21" cy="227.66" r="2.0" fill="none" stroke="#000" stroke-width="1.05"/>
<circle cx="613.00" cy="230.01" r="2.0" fill="none" stroke="#000" stroke-width="1.05"/>
<circle cx="598.55" cy="227.45" r="2.0" fill="none" stroke="#000" stroke-width="1.05"/>
<circle cx="602.93" cy="231.01" r="2.0" fill="none" stroke="#000" stroke-width="1.05"/>
<circle cx="619.33" cy="227.92" r="2.0" fill="none" stroke="#000" stroke-width="1.05"/>
<circle cx="610.58" cy="220.33" r="2.0" fill="none" stroke="#000" stroke-width="1.05"/>
<circle cx="606.96" cy="219.06" r="2.0" fill="none" stroke="#000" stroke-width="1.05"/>
<circle cx="608.68" cy="214.71" r="2.0" fill="none" stroke="#000" stroke-width="1.05"/>
<circle cx="609.49" cy="227.84" r="2.0" fill="none" stroke="#000" stroke-width="1.05"/>
<circle cx="614.75" cy="225.19" r="2.0" fill="none" stroke="#000" stroke-width="1.05"/>
<circle cx="605.70" cy="228.53" r="2.0" fill="none" stroke="#000" stroke-width="1.05"/>
<circle cx="616.95" cy="222.87" r="2.0" fill="none" stroke="#000" stroke-width="1.05"/>
<circle cx="618.93" cy="223.98" r="2.0" fill="none" stroke="#000" stroke-width="1.05"/>
<circle cx="607.98" cy="223.84" r="2.0" fill="none" stroke="#000" stroke-width="1.05"/>
<circle cx="617.56" cy="226.27" r="2.0" fill="none" stroke="#000" stroke-width="1.05"/>
<circle cx="604.31" cy="224.70" r="2.0" fill="none" stroke="#000" stroke-width="1.05"/>
<circle cx="614.93" cy="223.42" r="2.0" fill="none" stroke="#000" stroke-width="1.05"/>
<circle cx="602.13" cy="219.39" r="2.0" fill="none" stroke="#000" stroke-width="1.05"/>
<circle cx="598.07" cy="221.86" r="2.0" fill="none" stroke="#000" stroke-width="1.05"/>
<circle cx="604.83" cy="217.20" r="2.0" fill="none" stroke="#000" stroke-width="1.05"/>
<circle cx="601.31" cy="228.96" r="2.0" fill="none" stroke="#000" stroke-width="1.05"/>
<circle cx="608.14" cy="222.72" r="2.0" fill="none" stroke="#000" stroke-width="1.05"/>
<circle cx="609.81" cy="226.39" r="2.0" fill="none" stroke="#000" stroke-width="1.05"/>
<circle cx="607.91" cy="217.67" r="2.0" fill="none" stroke="#000" stroke-width="1.05"/>
<circle cx="603.07" cy="219.08" r="2.0" fill="none" stroke="#000" stroke-width="1.05"/>
<circle cx="653.00" cy="136.90" r="2.0" fill="none" stroke="#000" stroke-width="1.05"/>
<circle cx="653.00" cy="140.10" r="2.0" fill="none" stroke="#000" stroke-width="1.05"/>
<circle cx="653.00" cy="159.60" r="2.0" fill="none" stroke="#000" stroke-width="1.05"/>
<circle cx="653.00" cy="163.50" r="2.0" fill="none" stroke="#000" stroke-width="1.05"/>
<circle cx="650.00" cy="173.50" r="2.0" fill="none" stroke="#000" stroke-width="1.05"/>
<circle cx="653.00" cy="171.50" r="2.0" fill="none" stroke="#000" stroke-width="1.05"/>
<circle cx="655.50" cy="170.00" r="2.0" fill="none" stroke="#000" stroke-width="1.05"/>
<circle cx="652.20" cy="178.90" r="2.0" fill="none" stroke="#000" stroke-width="1.05"/>
<circle cx="653.40" cy="180.60" r="2.0" fill="none" stroke="#000" stroke-width="1.05"/>
<circle cx="652.80" cy="183.50" r="2.0" fill="none" stroke="#000" stroke-width="1.05"/>
<circle cx="653.00" cy="228.00" r="2.0" fill="none" stroke="#000" stroke-width="1.05"/>
<circle cx="652.50" cy="232.00" r="2.0" fill="none" stroke="#000" stroke-width="1.05"/>
<circle cx="654.00" cy="231.00" r="2.0" fill="none" stroke="#000" stroke-width="1.05"/>
<circle cx="657.16" cy="189.30" r="2.0" fill="none" stroke="#000" stroke-width="1.05"/>
<circle cx="642.57" cy="211.82" r="2.0" fill="none" stroke="#000" stroke-width="1.05"/>
<circle cx="655.75" cy="206.93" r="2.0" fill="none" stroke="#000" stroke-width="1.05"/>
<circle cx="664.86" cy="216.62" r="2.0" fill="none" stroke="#000" stroke-width="1.05"/>
<circle cx="659.45" cy="199.96" r="2.0" fill="none" stroke="#000" stroke-width="1.05"/>
<circle cx="663.87" cy="204.58" r="2.0" fill="none" stroke="#000" stroke-width="1.05"/>
<circle cx="646.81" cy="219.78" r="2.0" fill="none" stroke="#000" stroke-width="1.05"/>
<circle cx="651.52" cy="209.44" r="2.0" fill="none" stroke="#000" stroke-width="1.05"/>
<circle cx="660.09" cy="219.94" r="2.0" fill="none" stroke="#000" stroke-width="1.05"/>
<circle cx="652.90" cy="218.12" r="2.0" fill="none" stroke="#000" stroke-width="1.05"/>
<circle cx="660.91" cy="209.67" r="2.0" fill="none" stroke="#000" stroke-width="1.05"/>
<circle cx="643.45" cy="218.05" r="2.0" fill="none" stroke="#000" stroke-width="1.05"/>
<circle cx="652.32" cy="185.01" r="2.0" fill="none" stroke="#000" stroke-width="1.05"/>
<circle cx="656.48" cy="212.60" r="2.0" fill="none" stroke="#000" stroke-width="1.05"/>
<circle cx="640.86" cy="208.46" r="2.0" fill="none" stroke="#000" stroke-width="1.05"/>
<circle cx="653.62" cy="195.51" r="2.0" fill="none" stroke="#000" stroke-width="1.05"/>
<circle cx="655.26" cy="201.66" r="2.0" fill="none" stroke="#000" stroke-width="1.05"/>
<circle cx="658.11" cy="217.42" r="2.0" fill="none" stroke="#000" stroke-width="1.05"/>
<circle cx="655.65" cy="215.97" r="2.0" fill="none" stroke="#000" stroke-width="1.05"/>
<circle cx="647.23" cy="201.83" r="2.0" fill="none" stroke="#000" stroke-width="1.05"/>
<circle cx="649.24" cy="217.28" r="2.0" fill="none" stroke="#000" stroke-width="1.05"/>
<circle cx="651.63" cy="198.66" r="2.0" fill="none" stroke="#000" stroke-width="1.05"/>
<circle cx="650.91" cy="203.22" r="2.0" fill="none" stroke="#000" stroke-width="1.05"/>
<circle cx="654.00" cy="187.27" r="2.0" fill="none" stroke="#000" stroke-width="1.05"/>
<circle cx="664.74" cy="214.32" r="2.0" fill="none" stroke="#000" stroke-width="1.05"/>
<circle cx="656.81" cy="203.26" r="2.0" fill="none" stroke="#000" stroke-width="1.05"/>
<circle cx="647.47" cy="212.37" r="2.0" fill="none" stroke="#000" stroke-width="1.05"/>
<circle cx="649.21" cy="205.15" r="2.0" fill="none" stroke="#000" stroke-width="1.05"/>
<circle cx="645.95" cy="216.67" r="2.0" fill="none" stroke="#000" stroke-width="1.05"/>
<circle cx="656.20" cy="223.24" r="2.0" fill="none" stroke="#000" stroke-width="1.05"/>
<circle cx="659.52" cy="204.06" r="2.0" fill="none" stroke="#000" stroke-width="1.05"/>
<circle cx="644.12" cy="205.29" r="2.0" fill="none" stroke="#000" stroke-width="1.05"/>
<circle cx="649.37" cy="197.51" r="2.0" fill="none" stroke="#000" stroke-width="1.05"/>
<circle cx="663.51" cy="211.11" r="2.0" fill="none" stroke="#000" stroke-width="1.05"/>
<circle cx="652.52" cy="212.70" r="2.0" fill="none" stroke="#000" stroke-width="1.05"/>
<circle cx="649.87" cy="193.94" r="2.0" fill="none" stroke="#000" stroke-width="1.05"/>
<circle cx="661.26" cy="201.86" r="2.0" fill="none" stroke="#000" stroke-width="1.05"/>
<circle cx="654.46" cy="191.47" r="2.0" fill="none" stroke="#000" stroke-width="1.05"/>
<circle cx="651.74" cy="222.48" r="2.0" fill="none" stroke="#000" stroke-width="1.05"/>
<circle cx="640.84" cy="215.16" r="2.0" fill="none" stroke="#000" stroke-width="1.05"/>
<circle cx="661.53" cy="217.82" r="2.0" fill="none" stroke="#000" stroke-width="1.05"/>
<circle cx="644.58" cy="214.74" r="2.0" fill="none" stroke="#000" stroke-width="1.05"/>
<circle cx="659.11" cy="214.51" r="2.0" fill="none" stroke="#000" stroke-width="1.05"/>
<circle cx="651.32" cy="188.87" r="2.0" fill="none" stroke="#000" stroke-width="1.05"/>
<circle cx="652.31" cy="206.01" r="2.0" fill="none" stroke="#000" stroke-width="1.05"/>
<circle cx="644.84" cy="208.28" r="2.0" fill="none" stroke="#000" stroke-width="1.05"/>
<circle cx="660.85" cy="206.74" r="2.0" fill="none" stroke="#000" stroke-width="1.05"/>
<circle cx="653.19" cy="200.58" r="2.0" fill="none" stroke="#000" stroke-width="1.05"/>
<circle cx="652.25" cy="216.00" r="2.0" fill="none" stroke="#000" stroke-width="1.05"/>
<circle cx="658.54" cy="197.16" r="2.0" fill="none" stroke="#000" stroke-width="1.05"/>
<circle cx="655.48" cy="219.48" r="2.0" fill="none" stroke="#000" stroke-width="1.05"/>
<circle cx="656.12" cy="193.16" r="2.0" fill="none" stroke="#000" stroke-width="1.05"/>
<circle cx="645.17" cy="210.63" r="2.0" fill="none" stroke="#000" stroke-width="1.05"/>
<circle cx="648.80" cy="214.41" r="2.0" fill="none" stroke="#000" stroke-width="1.05"/>
<circle cx="656.72" cy="199.32" r="2.0" fill="none" stroke="#000" stroke-width="1.05"/>
<circle cx="641.21" cy="218.53" r="2.0" fill="none" stroke="#000" stroke-width="1.05"/>
<circle cx="649.11" cy="209.83" r="2.0" fill="none" stroke="#000" stroke-width="1.05"/>
<circle cx="655.30" cy="209.16" r="2.0" fill="none" stroke="#000" stroke-width="1.05"/>
<circle cx="649.58" cy="207.45" r="2.0" fill="none" stroke="#000" stroke-width="1.05"/>
<circle cx="647.02" cy="204.41" r="2.0" fill="none" stroke="#000" stroke-width="1.05"/>
<circle cx="656.06" cy="196.46" r="2.0" fill="none" stroke="#000" stroke-width="1.05"/>
<circle cx="644.87" cy="201.28" r="2.0" fill="none" stroke="#000" stroke-width="1.05"/>
<circle cx="650.34" cy="190.87" r="2.0" fill="none" stroke="#000" stroke-width="1.05"/>
<circle cx="662.64" cy="215.11" r="2.0" fill="none" stroke="#000" stroke-width="1.05"/>
<circle cx="662.35" cy="220.16" r="2.0" fill="none" stroke="#000" stroke-width="1.05"/>
<circle cx="647.02" cy="207.65" r="2.0" fill="none" stroke="#000" stroke-width="1.05"/>
<circle cx="665.49" cy="208.76" r="2.0" fill="none" stroke="#000" stroke-width="1.05"/>
<circle cx="653.91" cy="224.46" r="2.0" fill="none" stroke="#000" stroke-width="1.05"/>
<circle cx="663.21" cy="208.59" r="2.0" fill="none" stroke="#000" stroke-width="1.05"/>
<circle cx="659.42" cy="211.77" r="2.0" fill="none" stroke="#000" stroke-width="1.05"/>
<circle cx="653.27" cy="220.43" r="2.0" fill="none" stroke="#000" stroke-width="1.05"/>
<circle cx="640.50" cy="212.63" r="2.0" fill="none" stroke="#000" stroke-width="1.05"/>
<circle cx="654.75" cy="204.85" r="2.0" fill="none" stroke="#000" stroke-width="1.05"/>
<circle cx="648.57" cy="200.04" r="2.0" fill="none" stroke="#000" stroke-width="1.05"/>
<circle cx="647.11" cy="197.07" r="2.0" fill="none" stroke="#000" stroke-width="1.05"/>
<circle cx="649.54" cy="221.80" r="2.0" fill="none" stroke="#000" stroke-width="1.05"/>
<circle cx="644.70" cy="221.41" r="2.0" fill="none" stroke="#000" stroke-width="1.05"/>
<circle cx="657.43" cy="209.72" r="2.0" fill="none" stroke="#000" stroke-width="1.05"/>
<circle cx="658.80" cy="222.54" r="2.0" fill="none" stroke="#000" stroke-width="1.05"/>
<circle cx="643.10" cy="203.14" r="2.0" fill="none" stroke="#000" stroke-width="1.05"/>
<circle cx="647.21" cy="222.62" r="2.0" fill="none" stroke="#000" stroke-width="1.05"/>
<circle cx="650.50" cy="186.70" r="2.0" fill="none" stroke="#000" stroke-width="1.05"/>
<circle cx="650.78" cy="219.89" r="2.0" fill="none" stroke="#000" stroke-width="1.05"/>
<circle cx="658.30" cy="207.52" r="2.0" fill="none" stroke="#000" stroke-width="1.05"/>
<circle cx="641.84" cy="206.30" r="2.0" fill="none" stroke="#000" stroke-width="1.05"/>
<circle cx="653.20" cy="203.03" r="2.0" fill="none" stroke="#000" stroke-width="1.05"/>
<circle cx="652.96" cy="193.22" r="2.0" fill="none" stroke="#000" stroke-width="1.05"/>
<circle cx="654.57" cy="198.59" r="2.0" fill="none" stroke="#000" stroke-width="1.05"/>
<circle cx="648.61" cy="188.66" r="2.0" fill="none" stroke="#000" stroke-width="1.05"/>
<circle cx="645.55" cy="199.09" r="2.0" fill="none" stroke="#000" stroke-width="1.05"/>
<circle cx="650.70" cy="200.67" r="2.0" fill="none" stroke="#000" stroke-width="1.05"/>
<circle cx="665.92" cy="211.71" r="2.0" fill="none" stroke="#000" stroke-width="1.05"/>
<circle cx="654.09" cy="214.31" r="2.0" fill="none" stroke="#000" stroke-width="1.05"/>
<circle cx="657.86" cy="219.87" r="2.0" fill="none" stroke="#000" stroke-width="1.05"/>
<circle cx="657.40" cy="205.43" r="2.0" fill="none" stroke="#000" stroke-width="1.05"/>
<circle cx="649.94" cy="212.38" r="2.0" fill="none" stroke="#000" stroke-width="1.05"/>
<circle cx="664.81" cy="206.63" r="2.0" fill="none" stroke="#000" stroke-width="1.05"/>
<circle cx="653.66" cy="210.65" r="2.0" fill="none" stroke="#000" stroke-width="1.05"/>
<circle cx="649.64" cy="224.01" r="2.0" fill="none" stroke="#000" stroke-width="1.05"/>
<circle cx="651.41" cy="196.08" r="2.0" fill="none" stroke="#000" stroke-width="1.05"/>
<rect x="146" y="357" width="460" height="275" fill="#fafafa"/>
<line x1="159.40" y1="598.50" x2="604.20" y2="598.50" stroke="#eaecef" stroke-width="1.0"/>
<line x1="159.40" y1="578.50" x2="604.20" y2="578.50" stroke="#eaecef" stroke-width="1.0"/>
<line x1="159.40" y1="557.50" x2="604.20" y2="557.50" stroke="#eaecef" stroke-width="1.0"/>
<line x1="159.40" y1="537.50" x2="604.20" y2="537.50" stroke="#eaecef" stroke-width="1.0"/>
<line x1="159.40" y1="516.50" x2="604.20" y2="516.50" stroke="#eaecef" stroke-width="1.0"/>
<line x1="159.40" y1="496.50" x2="604.20" y2="496.50" stroke="#eaecef" stroke-width="1.0"/>
<line x1="159.40" y1="475.50" x2="604.20" y2="475.50" stroke="#eaecef" stroke-width="1.0"/>
<line x1="159.40" y1="455.50" x2="604.20" y2="455.50" stroke="#eaecef" stroke-width="1.0"/>
<line x1="159.40" y1="434.50" x2="604.20" y2="434.50" stroke="#eaecef" stroke-width="1.0"/>
<line x1="159.40" y1="414.50" x2="604.20" y2="414.50" stroke="#eaecef" stroke-width="1.0"/>
<line x1="159.40" y1="393.50" x2="604.20" y2="393.50" stroke="#eaecef" stroke-width="1.0"/>
<line x1="159.40" y1="373.50" x2="604.20" y2="373.50" stroke="#eaecef" stroke-width="1.0"/>
<text x="155.40" y="601.20" font-size="7.5" text-anchor="end" fill="#3a3a3a" stroke="#3a3a3a" stroke-width="0.08">2</text>
<text x="155.40" y="580.70" font-size="7.5" text-anchor="end" fill="#3a3a3a" stroke="#3a3a3a" stroke-width="0.08">4</text>
<text x="155.40" y="560.20" font-size="7.5" text-anchor="end" fill="#3a3a3a" stroke="#3a3a3a" stroke-width="0.08">6</text>
<text x="155.40" y="539.70" font-size="7.5" text-anchor="end" fill="#3a3a3a" stroke="#3a3a3a" stroke-width="0.08">8</text>
<text x="155.40" y="519.20" font-size="7.5" text-anchor="end" fill="#3a3a3a" stroke="#3a3a3a" stroke-width="0.08">10</text>
<text x="155.40" y="498.70" font-size="7.5" text-anchor="end" fill="#3a3a3a" stroke="#3a3a3a" stroke-width="0.08">12</text>
<text x="155.40" y="478.20" font-size="7.5" text-anchor="end" fill="#3a3a3a" stroke="#3a3a3a" stroke-width="0.08">14</text>
<text x="155.40" y="457.70" font-size="7.5" text-anchor="end" fill="#3a3a3a" stroke="#3a3a3a" stroke-width="0.08">16</text>
<text x="155.40" y="437.20" font-size="7.5" text-anchor="end" fill="#3a3a3a" stroke="#3a3a3a" stroke-width="0.08">18</text>
<text x="155.40" y="416.70" font-size="7.5" text-anchor="end" fill="#3a3a3a" stroke="#3a3a3a" stroke-width="0.08">20</text>
<text x="155.40" y="396.20" font-size="7.5" text-anchor="end" fill="#3a3a3a" stroke="#3a3a3a" stroke-width="0.08">22</text>
<text x="155.40" y="375.70" font-size="7.5" text-anchor="end" fill="#3a3a3a" stroke="#3a3a3a" stroke-width="0.08">24</text>
<text x="155.40" y="616.40" font-size="7.5" text-anchor="end" fill="#3a3a3a" stroke="#3a3a3a" stroke-width="0.08">0</text>
<text x="173.90" y="628.30" font-size="7.5" text-anchor="middle" fill="#3a3a3a" stroke="#3a3a3a" stroke-width="0.08">0.00</text>
<text x="215.57" y="628.30" font-size="7.5" text-anchor="middle" fill="#3a3a3a" stroke="#3a3a3a" stroke-width="0.08">10.00</text>
<text x="257.24" y="628.30" font-size="7.5" text-anchor="middle" fill="#3a3a3a" stroke="#3a3a3a" stroke-width="0.08">20.00</text>
<text x="298.91" y="628.30" font-size="7.5" text-anchor="middle" fill="#3a3a3a" stroke="#3a3a3a" stroke-width="0.08">30.00</text>
<text x="340.58" y="628.30" font-size="7.5" text-anchor="middle" fill="#3a3a3a" stroke="#3a3a3a" stroke-width="0.08">40.00</text>
<text x="382.25" y="628.30" font-size="7.5" text-anchor="middle" fill="#3a3a3a" stroke="#3a3a3a" stroke-width="0.08">50.00</text>
<text x="423.92" y="628.30" font-size="7.5" text-anchor="middle" fill="#3a3a3a" stroke="#3a3a3a" stroke-width="0.08">60.00</text>
<text x="465.59" y="628.30" font-size="7.5" text-anchor="middle" fill="#3a3a3a" stroke="#3a3a3a" stroke-width="0.08">70.00</text>
<text x="507.26" y="628.30" font-size="7.5" text-anchor="middle" fill="#3a3a3a" stroke="#3a3a3a" stroke-width="0.08">80.00</text>
<text x="548.93" y="628.30" font-size="7.5" text-anchor="middle" fill="#3a3a3a" stroke="#3a3a3a" stroke-width="0.08">90.00</text>
<text x="590.60" y="628.30" font-size="7.5" text-anchor="middle" fill="#3a3a3a" stroke="#3a3a3a" stroke-width="0.08">100.00</text>
<text x="134.60" y="500.00" font-size="10.2" font-style="italic" text-anchor="middle" textLength="104.00" lengthAdjust="spacingAndGlyphs" transform="rotate(-90 134.60 500.00)" stroke="#000" stroke-width="0.25">Number of individuals</text>
<text x="247.1" y="646.6" font-size="11.1" font-style="italic" textLength="272" lengthAdjust="spacingAndGlyphs" stroke="#000" stroke-width="0.25">Percentage of CD15s<tspan font-size="7" dy="-4">hi</tspan><tspan dy="4"> cells within the basophil population</tspan></text>
<rect x="172.50" y="441.00" width="96.00" height="93.50" fill="#ffffff"/>
<rect x="275.40" y="356.50" width="96.00" height="86.50" fill="#ffffff"/>
<rect x="503.50" y="356.50" width="100.70" height="97.50" fill="#ffffff"/>
<rect x="174.30" y="516.50" width="6.45" height="102.50" fill="#3498d8"/>
<rect x="181.25" y="608.75" width="6.45" height="10.25" fill="#e64d4d"/>
<rect x="188.20" y="608.75" width="6.45" height="10.25" fill="#efcb47"/>
<rect x="195.15" y="608.75" width="6.45" height="10.25" fill="#3498d8"/>
<rect x="202.10" y="608.75" width="6.45" height="10.25" fill="#e64d4d"/>
<rect x="264.65" y="608.75" width="6.45" height="10.25" fill="#e64d4d"/>
<rect x="285.50" y="588.25" width="6.45" height="30.75" fill="#e64d4d"/>
<rect x="306.35" y="537.00" width="6.45" height="82.00" fill="#e64d4d"/>
<rect x="320.25" y="608.75" width="6.45" height="10.25" fill="#3498d8"/>
<rect x="327.20" y="465.25" width="6.45" height="153.75" fill="#e64d4d"/>
<rect x="334.15" y="608.75" width="6.45" height="10.25" fill="#efcb47"/>
<rect x="348.05" y="485.75" width="6.45" height="133.25" fill="#e64d4d"/>
<rect x="355.00" y="588.25" width="6.45" height="30.75" fill="#efcb47"/>
<rect x="368.90" y="444.75" width="6.45" height="174.25" fill="#e64d4d"/>
<rect x="375.85" y="608.75" width="6.45" height="10.25" fill="#efcb47"/>
<rect x="389.75" y="567.75" width="6.45" height="51.25" fill="#e64d4d"/>
<rect x="396.70" y="567.75" width="6.45" height="51.25" fill="#efcb47"/>
<rect x="403.65" y="608.75" width="6.45" height="10.25" fill="#3498d8"/>
<rect x="410.60" y="537.00" width="6.45" height="82.00" fill="#e64d4d"/>
<rect x="417.55" y="485.75" width="6.45" height="133.25" fill="#efcb47"/>
<rect x="431.45" y="578.00" width="6.45" height="41.00" fill="#e64d4d"/>
<rect x="438.40" y="444.75" width="6.45" height="174.25" fill="#efcb47"/>
<rect x="452.30" y="588.25" width="6.45" height="30.75" fill="#e64d4d"/>
<rect x="459.25" y="414.00" width="6.45" height="205.00" fill="#efcb47"/>
<rect x="480.10" y="403.75" width="6.45" height="215.25" fill="#efcb47"/>
<rect x="494.00" y="608.75" width="6.45" height="10.25" fill="#e64d4d"/>
<rect x="500.95" y="414.00" width="6.45" height="205.00" fill="#efcb47"/>
<rect x="521.80" y="547.25" width="6.45" height="71.75" fill="#efcb47"/>
<rect x="542.65" y="578.00" width="6.45" height="41.00" fill="#efcb47"/>
<rect x="563.50" y="598.50" width="6.45" height="20.50" fill="#efcb47"/>
<rect x="158.8" y="355.7" width="445.9" height="262.5" fill="none" stroke="#a3a3a3" stroke-width="1.2"/>
<line x1="158.20" y1="618.30" x2="605.30" y2="618.30" stroke="#8c8c8c" stroke-width="1.3"/>
<text x="182.80" y="373.70" font-size="12" font-style="italic" textLength="26.20" lengthAdjust="spacingAndGlyphs" stroke="#000" stroke-width="0.2">FUT6</text>
<rect x="176.40" y="385.40" width="11.20" height="6.60" fill="#29a8e0" stroke="#4a74c4" stroke-width="0.9"/>
<text x="202.90" y="395.00" font-size="12" font-style="italic" text-anchor="middle" textLength="12.50" lengthAdjust="spacingAndGlyphs" stroke="#000" stroke-width="0.15">-/-</text>
<rect x="176.40" y="397.25" width="11.20" height="6.60" fill="#e8202a" stroke="#4a74c4" stroke-width="0.9"/>
<text x="202.90" y="406.85" font-size="12" font-style="italic" text-anchor="middle" textLength="14.20" lengthAdjust="spacingAndGlyphs" stroke="#000" stroke-width="0.15">-/+</text>
<rect x="176.40" y="409.10" width="11.20" height="6.60" fill="#f4d12e" stroke="#4a74c4" stroke-width="0.9"/>
<text x="202.90" y="418.70" font-size="12" font-style="italic" text-anchor="middle" textLength="14.20" lengthAdjust="spacingAndGlyphs" stroke="#000" stroke-width="0.15">+/+</text>
<rect x="193.4" y="442.6" width="74.10" height="74.50" fill="#fff" stroke="#555" stroke-width="0.7"/>
<polygon points="204.80,516.80 206.30,512.00 207.40,495.00 208.40,473.00 209.50,463.50 210.60,466.00 211.60,478.00 212.60,494.00 214.00,503.00 216.00,509.00 218.50,512.00 222.00,514.00 227.00,515.60 235.00,516.00 245.00,516.50 250.00,516.80" fill="#9590cf" stroke="none"/>
<polyline points="204.80,516.80 206.30,512.00 207.40,495.00 208.40,473.00 209.50,463.50 210.60,466.00 211.60,478.00 212.60,494.00 214.00,503.00 216.00,509.00 218.50,512.00 222.00,514.00 227.00,515.60 235.00,516.00 245.00,516.50 250.00,516.80" fill="none" stroke="#2e3ea0" stroke-width="1.1" stroke-linejoin="round"/>
<line x1="193.40" y1="516.80" x2="267.50" y2="516.80" stroke="#2e3ea0" stroke-width="0.9"/>
<path d="M193.4 498.7 H226.7 M226.7 497.09999999999997 V503.59999999999997 M226.7 502.2 H267.5" fill="none" stroke="#7a56b8" stroke-width="1.1"/>
<line x1="191.20" y1="450.00" x2="193.40" y2="450.00" stroke="#444" stroke-width="0.5"/>
<text x="190.80" y="451.50" font-size="4.3" text-anchor="end" fill="#222" stroke="#222" stroke-width="0.1">50</text>
<line x1="191.20" y1="463.70" x2="193.40" y2="463.70" stroke="#444" stroke-width="0.5"/>
<text x="190.80" y="465.20" font-size="4.3" text-anchor="end" fill="#222" stroke="#222" stroke-width="0.1">40</text>
<line x1="191.20" y1="476.80" x2="193.40" y2="476.80" stroke="#444" stroke-width="0.5"/>
<text x="190.80" y="478.30" font-size="4.3" text-anchor="end" fill="#222" stroke="#222" stroke-width="0.1">30</text>
<line x1="191.20" y1="489.90" x2="193.40" y2="489.90" stroke="#444" stroke-width="0.5"/>
<text x="190.80" y="491.40" font-size="4.3" text-anchor="end" fill="#222" stroke="#222" stroke-width="0.1">20</text>
<line x1="191.20" y1="503.40" x2="193.40" y2="503.40" stroke="#444" stroke-width="0.5"/>
<text x="190.80" y="504.90" font-size="4.3" text-anchor="end" fill="#222" stroke="#222" stroke-width="0.1">10</text>
<line x1="191.20" y1="516.20" x2="193.40" y2="516.20" stroke="#444" stroke-width="0.5"/>
<text x="190.80" y="517.70" font-size="4.3" text-anchor="end" fill="#222" stroke="#222" stroke-width="0.1">0</text>
<line x1="192.20" y1="452.74" x2="193.40" y2="452.74" stroke="#555" stroke-width="0.35"/>
<line x1="192.20" y1="455.48" x2="193.40" y2="455.48" stroke="#555" stroke-width="0.35"/>
<line x1="192.20" y1="458.22" x2="193.40" y2="458.22" stroke="#555" stroke-width="0.35"/>
<line x1="192.20" y1="460.96" x2="193.40" y2="460.96" stroke="#555" stroke-width="0.35"/>
<line x1="192.20" y1="466.32" x2="193.40" y2="466.32" stroke="#555" stroke-width="0.35"/>
<line x1="192.20" y1="468.94" x2="193.40" y2="468.94" stroke="#555" stroke-width="0.35"/>
<line x1="192.20" y1="471.56" x2="193.40" y2="471.56" stroke="#555" stroke-width="0.35"/>
<line x1="192.20" y1="474.18" x2="193.40" y2="474.18" stroke="#555" stroke-width="0.35"/>
<line x1="192.20" y1="479.42" x2="193.40" y2="479.42" stroke="#555" stroke-width="0.35"/>
<line x1="192.20" y1="482.04" x2="193.40" y2="482.04" stroke="#555" stroke-width="0.35"/>
<line x1="192.20" y1="484.66" x2="193.40" y2="484.66" stroke="#555" stroke-width="0.35"/>
<line x1="192.20" y1="487.28" x2="193.40" y2="487.28" stroke="#555" stroke-width="0.35"/>
<line x1="192.20" y1="492.60" x2="193.40" y2="492.60" stroke="#555" stroke-width="0.35"/>
<line x1="192.20" y1="495.30" x2="193.40" y2="495.30" stroke="#555" stroke-width="0.35"/>
<line x1="192.20" y1="498.00" x2="193.40" y2="498.00" stroke="#555" stroke-width="0.35"/>
<line x1="192.20" y1="500.70" x2="193.40" y2="500.70" stroke="#555" stroke-width="0.35"/>
<line x1="192.20" y1="505.96" x2="193.40" y2="505.96" stroke="#555" stroke-width="0.35"/>
<line x1="192.20" y1="508.52" x2="193.40" y2="508.52" stroke="#555" stroke-width="0.35"/>
<line x1="192.20" y1="511.08" x2="193.40" y2="511.08" stroke="#555" stroke-width="0.35"/>
<line x1="192.20" y1="513.64" x2="193.40" y2="513.64" stroke="#555" stroke-width="0.35"/>
<line x1="209.70" y1="517.10" x2="209.70" y2="518.90" stroke="#444" stroke-width="0.5"/>
<text x="209.70" y="523.60" font-size="4.5" text-anchor="middle" fill="#333">0</text>
<line x1="229.80" y1="517.10" x2="229.80" y2="518.90" stroke="#444" stroke-width="0.5"/>
<text x="230.40" y="523.60" font-size="4.5" fill="#333" text-anchor="middle">10<tspan font-size="3.3" dy="-1.8">3</tspan></text>
<line x1="247.30" y1="517.10" x2="247.30" y2="518.90" stroke="#444" stroke-width="0.5"/>
<text x="247.90" y="523.60" font-size="4.5" fill="#333" text-anchor="middle">10<tspan font-size="3.3" dy="-1.8">4</tspan></text>
<line x1="262.20" y1="517.10" x2="262.20" y2="518.90" stroke="#444" stroke-width="0.5"/>
<text x="262.80" y="523.60" font-size="4.5" fill="#333" text-anchor="middle">10<tspan font-size="3.3" dy="-1.8">5</tspan></text>
<line x1="195.87" y1="517.10" x2="195.87" y2="518.10" stroke="#666" stroke-width="0.35"/>
<line x1="198.34" y1="517.10" x2="198.34" y2="518.10" stroke="#666" stroke-width="0.35"/>
<line x1="200.81" y1="517.10" x2="200.81" y2="518.10" stroke="#666" stroke-width="0.35"/>
<line x1="203.28" y1="517.10" x2="203.28" y2="518.10" stroke="#666" stroke-width="0.35"/>
<line x1="205.75" y1="517.10" x2="205.75" y2="518.10" stroke="#666" stroke-width="0.35"/>
<line x1="208.22" y1="517.10" x2="208.22" y2="518.10" stroke="#666" stroke-width="0.35"/>
<line x1="210.69" y1="517.10" x2="210.69" y2="518.10" stroke="#666" stroke-width="0.35"/>
<line x1="213.16" y1="517.10" x2="213.16" y2="518.10" stroke="#666" stroke-width="0.35"/>
<line x1="215.63" y1="517.10" x2="215.63" y2="518.10" stroke="#666" stroke-width="0.35"/>
<line x1="218.10" y1="517.10" x2="218.10" y2="518.10" stroke="#666" stroke-width="0.35"/>
<line x1="220.57" y1="517.10" x2="220.57" y2="518.10" stroke="#666" stroke-width="0.35"/>
<line x1="223.04" y1="517.10" x2="223.04" y2="518.10" stroke="#666" stroke-width="0.35"/>
<line x1="225.51" y1="517.10" x2="225.51" y2="518.10" stroke="#666" stroke-width="0.35"/>
<line x1="227.98" y1="517.10" x2="227.98" y2="518.10" stroke="#666" stroke-width="0.35"/>
<line x1="230.45" y1="517.10" x2="230.45" y2="518.10" stroke="#666" stroke-width="0.35"/>
<line x1="232.92" y1="517.10" x2="232.92" y2="518.10" stroke="#666" stroke-width="0.35"/>
<line x1="235.39" y1="517.10" x2="235.39" y2="518.10" stroke="#666" stroke-width="0.35"/>
<line x1="237.86" y1="517.10" x2="237.86" y2="518.10" stroke="#666" stroke-width="0.35"/>
<line x1="240.33" y1="517.10" x2="240.33" y2="518.10" stroke="#666" stroke-width="0.35"/>
<line x1="242.80" y1="517.10" x2="242.80" y2="518.10" stroke="#666" stroke-width="0.35"/>
<line x1="245.27" y1="517.10" x2="245.27" y2="518.10" stroke="#666" stroke-width="0.35"/>
<line x1="247.74" y1="517.10" x2="247.74" y2="518.10" stroke="#666" stroke-width="0.35"/>
<line x1="250.21" y1="517.10" x2="250.21" y2="518.10" stroke="#666" stroke-width="0.35"/>
<line x1="252.68" y1="517.10" x2="252.68" y2="518.10" stroke="#666" stroke-width="0.35"/>
<line x1="255.15" y1="517.10" x2="255.15" y2="518.10" stroke="#666" stroke-width="0.35"/>
<line x1="257.62" y1="517.10" x2="257.62" y2="518.10" stroke="#666" stroke-width="0.35"/>
<line x1="260.09" y1="517.10" x2="260.09" y2="518.10" stroke="#666" stroke-width="0.35"/>
<line x1="262.56" y1="517.10" x2="262.56" y2="518.10" stroke="#666" stroke-width="0.35"/>
<line x1="265.03" y1="517.10" x2="265.03" y2="518.10" stroke="#666" stroke-width="0.35"/>
<text x="195.60" y="451.30" font-size="7.3" stroke="#000" stroke-width="0.12">CD15s<tspan font-size="5" dy="-2.6">lo</tspan></text>
<text x="265.70" y="451.30" font-size="7.3" text-anchor="end" stroke="#000" stroke-width="0.12">CD15s<tspan font-size="5" dy="-2.6">hi</tspan></text>
<text x="195.60" y="456.90" font-size="4.8" fill="#111" stroke="#111" stroke-width="0.12">94.7</text>
<text x="251.30" y="456.90" font-size="4.8" text-anchor="middle" fill="#111" stroke="#111" stroke-width="0.12">5.27</text>
<text x="226.10" y="532.90" font-size="6.5" text-anchor="middle" textLength="39.50" lengthAdjust="spacingAndGlyphs" stroke="#000" stroke-width="0.12">CD15s BV421</text>
<text x="178.60" y="480.15" font-size="5" text-anchor="middle" transform="rotate(-90 178.60 480.15)" stroke="#000" stroke-width="0.15">Count</text>
<rect x="296.5" y="360.3" width="74.10" height="74.10" fill="#fff" stroke="#555" stroke-width="0.7"/>
<polygon points="308.30,434.60 309.30,425.00 310.40,405.00 311.50,391.00 312.60,381.50 313.70,378.90 314.90,382.00 316.00,392.00 317.00,404.00 318.20,406.50 319.20,408.50 320.30,416.00 321.50,418.00 323.00,419.50 325.00,418.50 327.00,420.50 329.00,419.00 331.00,421.00 333.00,420.00 335.00,418.50 337.00,414.00 339.00,413.00 341.00,409.00 343.00,403.00 344.50,396.50 345.20,395.60 346.30,400.00 347.30,399.70 348.50,404.00 350.00,415.00 350.80,425.00 352.00,432.00 353.50,434.60" fill="#9590cf" stroke="none"/>
<polyline points="308.30,434.60 309.30,425.00 310.40,405.00 311.50,391.00 312.60,381.50 313.70,378.90 314.90,382.00 316.00,392.00 317.00,404.00 318.20,406.50 319.20,408.50 320.30,416.00 321.50,418.00 323.00,419.50 325.00,418.50 327.00,420.50 329.00,419.00 331.00,421.00 333.00,420.00 335.00,418.50 337.00,414.00 339.00,413.00 341.00,409.00 343.00,403.00 344.50,396.50 345.20,395.60 346.30,400.00 347.30,399.70 348.50,404.00 350.00,415.00 350.80,425.00 352.00,432.00 353.50,434.60" fill="none" stroke="#2e3ea0" stroke-width="1.1" stroke-linejoin="round"/>
<line x1="296.50" y1="434.10" x2="370.60" y2="434.10" stroke="#2e3ea0" stroke-width="0.9"/>
<path d="M296.5 416 H330.2 M330.2 414.4 V421.2 M330.2 419.8 H370.6" fill="none" stroke="#7a56b8" stroke-width="1.1"/>
<line x1="294.30" y1="370.40" x2="296.50" y2="370.40" stroke="#444" stroke-width="0.5"/>
<text x="293.90" y="371.90" font-size="4.3" text-anchor="end" fill="#222" stroke="#222" stroke-width="0.1">20</text>
<line x1="294.30" y1="386.20" x2="296.50" y2="386.20" stroke="#444" stroke-width="0.5"/>
<text x="293.90" y="387.70" font-size="4.3" text-anchor="end" fill="#222" stroke="#222" stroke-width="0.1">15</text>
<line x1="294.30" y1="402.30" x2="296.50" y2="402.30" stroke="#444" stroke-width="0.5"/>
<text x="293.90" y="403.80" font-size="4.3" text-anchor="end" fill="#222" stroke="#222" stroke-width="0.1">10</text>
<line x1="294.30" y1="418.40" x2="296.50" y2="418.40" stroke="#444" stroke-width="0.5"/>
<text x="293.90" y="419.90" font-size="4.3" text-anchor="end" fill="#222" stroke="#222" stroke-width="0.1">5.0</text>
<line x1="294.30" y1="433.80" x2="296.50" y2="433.80" stroke="#444" stroke-width="0.5"/>
<text x="293.90" y="435.30" font-size="4.3" text-anchor="end" fill="#222" stroke="#222" stroke-width="0.1">0</text>
<line x1="295.30" y1="373.56" x2="296.50" y2="373.56" stroke="#555" stroke-width="0.35"/>
<line x1="295.30" y1="376.72" x2="296.50" y2="376.72" stroke="#555" stroke-width="0.35"/>
<line x1="295.30" y1="379.88" x2="296.50" y2="379.88" stroke="#555" stroke-width="0.35"/>
<line x1="295.30" y1="383.04" x2="296.50" y2="383.04" stroke="#555" stroke-width="0.35"/>
<line x1="295.30" y1="389.42" x2="296.50" y2="389.42" stroke="#555" stroke-width="0.35"/>
<line x1="295.30" y1="392.64" x2="296.50" y2="392.64" stroke="#555" stroke-width="0.35"/>
<line x1="295.30" y1="395.86" x2="296.50" y2="395.86" stroke="#555" stroke-width="0.35"/>
<line x1="295.30" y1="399.08" x2="296.50" y2="399.08" stroke="#555" stroke-width="0.35"/>
<line x1="295.30" y1="405.52" x2="296.50" y2="405.52" stroke="#555" stroke-width="0.35"/>
<line x1="295.30" y1="408.74" x2="296.50" y2="408.74" stroke="#555" stroke-width="0.35"/>
<line x1="295.30" y1="411.96" x2="296.50" y2="411.96" stroke="#555" stroke-width="0.35"/>
<line x1="295.30" y1="415.18" x2="296.50" y2="415.18" stroke="#555" stroke-width="0.35"/>
<line x1="295.30" y1="421.48" x2="296.50" y2="421.48" stroke="#555" stroke-width="0.35"/>
<line x1="295.30" y1="424.56" x2="296.50" y2="424.56" stroke="#555" stroke-width="0.35"/>
<line x1="295.30" y1="427.64" x2="296.50" y2="427.64" stroke="#555" stroke-width="0.35"/>
<line x1="295.30" y1="430.72" x2="296.50" y2="430.72" stroke="#555" stroke-width="0.35"/>
<line x1="312.30" y1="434.40" x2="312.30" y2="436.20" stroke="#444" stroke-width="0.5"/>
<text x="312.30" y="441.80" font-size="4.5" text-anchor="middle" fill="#333">0</text>
<line x1="332.40" y1="434.40" x2="332.40" y2="436.20" stroke="#444" stroke-width="0.5"/>
<text x="333.00" y="441.80" font-size="4.5" fill="#333" text-anchor="middle">10<tspan font-size="3.3" dy="-1.8">3</tspan></text>
<line x1="350.80" y1="434.40" x2="350.80" y2="436.20" stroke="#444" stroke-width="0.5"/>
<text x="351.40" y="441.80" font-size="4.5" fill="#333" text-anchor="middle">10<tspan font-size="3.3" dy="-1.8">4</tspan></text>
<line x1="365.70" y1="434.40" x2="365.70" y2="436.20" stroke="#444" stroke-width="0.5"/>
<text x="366.30" y="441.80" font-size="4.5" fill="#333" text-anchor="middle">10<tspan font-size="3.3" dy="-1.8">5</tspan></text>
<line x1="298.97" y1="434.40" x2="298.97" y2="435.40" stroke="#666" stroke-width="0.35"/>
<line x1="301.44" y1="434.40" x2="301.44" y2="435.40" stroke="#666" stroke-width="0.35"/>
<line x1="303.91" y1="434.40" x2="303.91" y2="435.40" stroke="#666" stroke-width="0.35"/>
<line x1="306.38" y1="434.40" x2="306.38" y2="435.40" stroke="#666" stroke-width="0.35"/>
<line x1="308.85" y1="434.40" x2="308.85" y2="435.40" stroke="#666" stroke-width="0.35"/>
<line x1="311.32" y1="434.40" x2="311.32" y2="435.40" stroke="#666" stroke-width="0.35"/>
<line x1="313.79" y1="434.40" x2="313.79" y2="435.40" stroke="#666" stroke-width="0.35"/>
<line x1="316.26" y1="434.40" x2="316.26" y2="435.40" stroke="#666" stroke-width="0.35"/>
<line x1="318.73" y1="434.40" x2="318.73" y2="435.40" stroke="#666" stroke-width="0.35"/>
<line x1="321.20" y1="434.40" x2="321.20" y2="435.40" stroke="#666" stroke-width="0.35"/>
<line x1="323.67" y1="434.40" x2="323.67" y2="435.40" stroke="#666" stroke-width="0.35"/>
<line x1="326.14" y1="434.40" x2="326.14" y2="435.40" stroke="#666" stroke-width="0.35"/>
<line x1="328.61" y1="434.40" x2="328.61" y2="435.40" stroke="#666" stroke-width="0.35"/>
<line x1="331.08" y1="434.40" x2="331.08" y2="435.40" stroke="#666" stroke-width="0.35"/>
<line x1="333.55" y1="434.40" x2="333.55" y2="435.40" stroke="#666" stroke-width="0.35"/>
<line x1="336.02" y1="434.40" x2="336.02" y2="435.40" stroke="#666" stroke-width="0.35"/>
<line x1="338.49" y1="434.40" x2="338.49" y2="435.40" stroke="#666" stroke-width="0.35"/>
<line x1="340.96" y1="434.40" x2="340.96" y2="435.40" stroke="#666" stroke-width="0.35"/>
<line x1="343.43" y1="434.40" x2="343.43" y2="435.40" stroke="#666" stroke-width="0.35"/>
<line x1="345.90" y1="434.40" x2="345.90" y2="435.40" stroke="#666" stroke-width="0.35"/>
<line x1="348.37" y1="434.40" x2="348.37" y2="435.40" stroke="#666" stroke-width="0.35"/>
<line x1="350.84" y1="434.40" x2="350.84" y2="435.40" stroke="#666" stroke-width="0.35"/>
<line x1="353.31" y1="434.40" x2="353.31" y2="435.40" stroke="#666" stroke-width="0.35"/>
<line x1="355.78" y1="434.40" x2="355.78" y2="435.40" stroke="#666" stroke-width="0.35"/>
<line x1="358.25" y1="434.40" x2="358.25" y2="435.40" stroke="#666" stroke-width="0.35"/>
<line x1="360.72" y1="434.40" x2="360.72" y2="435.40" stroke="#666" stroke-width="0.35"/>
<line x1="363.19" y1="434.40" x2="363.19" y2="435.40" stroke="#666" stroke-width="0.35"/>
<line x1="365.66" y1="434.40" x2="365.66" y2="435.40" stroke="#666" stroke-width="0.35"/>
<line x1="368.13" y1="434.40" x2="368.13" y2="435.40" stroke="#666" stroke-width="0.35"/>
<text x="298.70" y="369.00" font-size="7.3" stroke="#000" stroke-width="0.12">CD15s<tspan font-size="5" dy="-2.6">lo</tspan></text>
<text x="368.80" y="369.00" font-size="7.3" text-anchor="end" stroke="#000" stroke-width="0.12">CD15s<tspan font-size="5" dy="-2.6">hi</tspan></text>
<text x="298.70" y="374.60" font-size="4.8" fill="#111" stroke="#111" stroke-width="0.12">51.5</text>
<text x="354.30" y="374.60" font-size="4.8" text-anchor="middle" fill="#111" stroke="#111" stroke-width="0.12">48.5</text>
<text x="333.55" y="449.30" font-size="6.5" text-anchor="middle" textLength="39.50" lengthAdjust="spacingAndGlyphs" stroke="#000" stroke-width="0.12">CD15s BV421</text>
<text x="280.00" y="397.65" font-size="5" text-anchor="middle" transform="rotate(-90 280.00 397.65)" stroke="#000" stroke-width="0.15">Count</text>
<rect x="524.3" y="360.3" width="74.10" height="74.10" fill="#fff" stroke="#555" stroke-width="0.7"/>
<polygon points="536.50,434.60 538.50,430.00 540.90,426.80 543.00,428.50 545.00,428.00 547.00,427.50 549.00,428.00 551.00,427.00 553.00,426.50 555.00,425.00 555.80,423.30 557.00,424.00 558.50,426.50 561.00,426.00 563.00,423.00 565.00,419.00 566.30,417.20 568.00,416.50 569.80,408.40 571.00,403.00 572.40,397.00 573.50,392.00 574.50,384.00 575.40,380.40 576.50,384.00 577.50,395.00 578.60,407.60 579.50,422.00 580.30,432.00 581.50,434.60" fill="#9590cf" stroke="none"/>
<polyline points="536.50,434.60 538.50,430.00 540.90,426.80 543.00,428.50 545.00,428.00 547.00,427.50 549.00,428.00 551.00,427.00 553.00,426.50 555.00,425.00 555.80,423.30 557.00,424.00 558.50,426.50 561.00,426.00 563.00,423.00 565.00,419.00 566.30,417.20 568.00,416.50 569.80,408.40 571.00,403.00 572.40,397.00 573.50,392.00 574.50,384.00 575.40,380.40 576.50,384.00 577.50,395.00 578.60,407.60 579.50,422.00 580.30,432.00 581.50,434.60" fill="none" stroke="#2e3ea0" stroke-width="1.1" stroke-linejoin="round"/>
<line x1="524.30" y1="434.10" x2="598.40" y2="434.10" stroke="#2e3ea0" stroke-width="0.9"/>
<path d="M524.3 416 H557.6 M557.6 414.4 V420.7 M557.6 419.3 H598.4" fill="none" stroke="#7a56b8" stroke-width="1.1"/>
<line x1="522.10" y1="363.20" x2="524.30" y2="363.20" stroke="#444" stroke-width="0.5"/>
<text x="521.70" y="364.70" font-size="4.3" text-anchor="end" fill="#222" stroke="#222" stroke-width="0.1">50</text>
<line x1="522.10" y1="377.40" x2="524.30" y2="377.40" stroke="#444" stroke-width="0.5"/>
<text x="521.70" y="378.90" font-size="4.3" text-anchor="end" fill="#222" stroke="#222" stroke-width="0.1">40</text>
<line x1="522.10" y1="391.40" x2="524.30" y2="391.40" stroke="#444" stroke-width="0.5"/>
<text x="521.70" y="392.90" font-size="4.3" text-anchor="end" fill="#222" stroke="#222" stroke-width="0.1">30</text>
<line x1="522.10" y1="405.80" x2="524.30" y2="405.80" stroke="#444" stroke-width="0.5"/>
<text x="521.70" y="407.30" font-size="4.3" text-anchor="end" fill="#222" stroke="#222" stroke-width="0.1">20</text>
<line x1="522.10" y1="419.80" x2="524.30" y2="419.80" stroke="#444" stroke-width="0.5"/>
<text x="521.70" y="421.30" font-size="4.3" text-anchor="end" fill="#222" stroke="#222" stroke-width="0.1">10</text>
<line x1="522.10" y1="434.20" x2="524.30" y2="434.20" stroke="#444" stroke-width="0.5"/>
<text x="521.70" y="435.70" font-size="4.3" text-anchor="end" fill="#222" stroke="#222" stroke-width="0.1">0</text>
<line x1="523.10" y1="366.04" x2="524.30" y2="366.04" stroke="#555" stroke-width="0.35"/>
<line x1="523.10" y1="368.88" x2="524.30" y2="368.88" stroke="#555" stroke-width="0.35"/>
<line x1="523.10" y1="371.72" x2="524.30" y2="371.72" stroke="#555" stroke-width="0.35"/>
<line x1="523.10" y1="374.56" x2="524.30" y2="374.56" stroke="#555" stroke-width="0.35"/>
<line x1="523.10" y1="380.20" x2="524.30" y2="380.20" stroke="#555" stroke-width="0.35"/>
<line x1="523.10" y1="383.00" x2="524.30" y2="383.00" stroke="#555" stroke-width="0.35"/>
<line x1="523.10" y1="385.80" x2="524.30" y2="385.80" stroke="#555" stroke-width="0.35"/>
<line x1="523.10" y1="388.60" x2="524.30" y2="388.60" stroke="#555" stroke-width="0.35"/>
<line x1="523.10" y1="394.28" x2="524.30" y2="394.28" stroke="#555" stroke-width="0.35"/>
<line x1="523.10" y1="397.16" x2="524.30" y2="397.16" stroke="#555" stroke-width="0.35"/>
<line x1="523.10" y1="400.04" x2="524.30" y2="400.04" stroke="#555" stroke-width="0.35"/>
<line x1="523.10" y1="402.92" x2="524.30" y2="402.92" stroke="#555" stroke-width="0.35"/>
<line x1="523.10" y1="408.60" x2="524.30" y2="408.60" stroke="#555" stroke-width="0.35"/>
<line x1="523.10" y1="411.40" x2="524.30" y2="411.40" stroke="#555" stroke-width="0.35"/>
<line x1="523.10" y1="414.20" x2="524.30" y2="414.20" stroke="#555" stroke-width="0.35"/>
<line x1="523.10" y1="417.00" x2="524.30" y2="417.00" stroke="#555" stroke-width="0.35"/>
<line x1="523.10" y1="422.68" x2="524.30" y2="422.68" stroke="#555" stroke-width="0.35"/>
<line x1="523.10" y1="425.56" x2="524.30" y2="425.56" stroke="#555" stroke-width="0.35"/>
<line x1="523.10" y1="428.44" x2="524.30" y2="428.44" stroke="#555" stroke-width="0.35"/>
<line x1="523.10" y1="431.32" x2="524.30" y2="431.32" stroke="#555" stroke-width="0.35"/>
<line x1="540.00" y1="434.40" x2="540.00" y2="436.20" stroke="#444" stroke-width="0.5"/>
<text x="540.00" y="441.80" font-size="4.5" text-anchor="middle" fill="#333">0</text>
<line x1="561.60" y1="434.40" x2="561.60" y2="436.20" stroke="#444" stroke-width="0.5"/>
<text x="562.20" y="441.80" font-size="4.5" fill="#333" text-anchor="middle">10<tspan font-size="3.3" dy="-1.8">3</tspan></text>
<line x1="576.80" y1="434.40" x2="576.80" y2="436.20" stroke="#444" stroke-width="0.5"/>
<text x="577.40" y="441.80" font-size="4.5" fill="#333" text-anchor="middle">10<tspan font-size="3.3" dy="-1.8">4</tspan></text>
<line x1="593.50" y1="434.40" x2="593.50" y2="436.20" stroke="#444" stroke-width="0.5"/>
<text x="594.10" y="441.80" font-size="4.5" fill="#333" text-anchor="middle">10<tspan font-size="3.3" dy="-1.8">5</tspan></text>
<line x1="526.77" y1="434.40" x2="526.77" y2="435.40" stroke="#666" stroke-width="0.35"/>
<line x1="529.24" y1="434.40" x2="529.24" y2="435.40" stroke="#666" stroke-width="0.35"/>
<line x1="531.71" y1="434.40" x2="531.71" y2="435.40" stroke="#666" stroke-width="0.35"/>
<line x1="534.18" y1="434.40" x2="534.18" y2="435.40" stroke="#666" stroke-width="0.35"/>
<line x1="536.65" y1="434.40" x2="536.65" y2="435.40" stroke="#666" stroke-width="0.35"/>
<line x1="539.12" y1="434.40" x2="539.12" y2="435.40" stroke="#666" stroke-width="0.35"/>
<line x1="541.59" y1="434.40" x2="541.59" y2="435.40" stroke="#666" stroke-width="0.35"/>
<line x1="544.06" y1="434.40" x2="544.06" y2="435.40" stroke="#666" stroke-width="0.35"/>
<line x1="546.53" y1="434.40" x2="546.53" y2="435.40" stroke="#666" stroke-width="0.35"/>
<line x1="549.00" y1="434.40" x2="549.00" y2="435.40" stroke="#666" stroke-width="0.35"/>
<line x1="551.47" y1="434.40" x2="551.47" y2="435.40" stroke="#666" stroke-width="0.35"/>
<line x1="553.94" y1="434.40" x2="553.94" y2="435.40" stroke="#666" stroke-width="0.35"/>
<line x1="556.41" y1="434.40" x2="556.41" y2="435.40" stroke="#666" stroke-width="0.35"/>
<line x1="558.88" y1="434.40" x2="558.88" y2="435.40" stroke="#666" stroke-width="0.35"/>
<line x1="561.35" y1="434.40" x2="561.35" y2="435.40" stroke="#666" stroke-width="0.35"/>
<line x1="563.82" y1="434.40" x2="563.82" y2="435.40" stroke="#666" stroke-width="0.35"/>
<line x1="566.29" y1="434.40" x2="566.29" y2="435.40" stroke="#666" stroke-width="0.35"/>
<line x1="568.76" y1="434.40" x2="568.76" y2="435.40" stroke="#666" stroke-width="0.35"/>
<line x1="571.23" y1="434.40" x2="571.23" y2="435.40" stroke="#666" stroke-width="0.35"/>
<line x1="573.70" y1="434.40" x2="573.70" y2="435.40" stroke="#666" stroke-width="0.35"/>
<line x1="576.17" y1="434.40" x2="576.17" y2="435.40" stroke="#666" stroke-width="0.35"/>
<line x1="578.64" y1="434.40" x2="578.64" y2="435.40" stroke="#666" stroke-width="0.35"/>
<line x1="581.11" y1="434.40" x2="581.11" y2="435.40" stroke="#666" stroke-width="0.35"/>
<line x1="583.58" y1="434.40" x2="583.58" y2="435.40" stroke="#666" stroke-width="0.35"/>
<line x1="586.05" y1="434.40" x2="586.05" y2="435.40" stroke="#666" stroke-width="0.35"/>
<line x1="588.52" y1="434.40" x2="588.52" y2="435.40" stroke="#666" stroke-width="0.35"/>
<line x1="590.99" y1="434.40" x2="590.99" y2="435.40" stroke="#666" stroke-width="0.35"/>
<line x1="593.46" y1="434.40" x2="593.46" y2="435.40" stroke="#666" stroke-width="0.35"/>
<line x1="595.93" y1="434.40" x2="595.93" y2="435.40" stroke="#666" stroke-width="0.35"/>
<text x="526.50" y="369.00" font-size="7.3" stroke="#000" stroke-width="0.12">CD15s<tspan font-size="5" dy="-2.6">lo</tspan></text>
<text x="596.60" y="369.00" font-size="7.3" text-anchor="end" stroke="#000" stroke-width="0.12">CD15s<tspan font-size="5" dy="-2.6">hi</tspan></text>
<text x="526.50" y="374.60" font-size="4.8" fill="#111" stroke="#111" stroke-width="0.12">22.1</text>
<text x="582.50" y="374.60" font-size="4.8" text-anchor="middle" fill="#111" stroke="#111" stroke-width="0.12">77.9</text>
<text x="563.00" y="453.10" font-size="6.5" text-anchor="middle" textLength="39.50" lengthAdjust="spacingAndGlyphs" stroke="#000" stroke-width="0.12">CD15s BV421</text>
<text x="509.00" y="397.65" font-size="5" text-anchor="middle" transform="rotate(-90 509.00 397.65)" stroke="#000" stroke-width="0.15">Count</text>
<line x1="212.00" y1="536.30" x2="181.80" y2="557.60" stroke="#707070" stroke-width="0.95"/>
<line x1="345.60" y1="454.10" x2="367.70" y2="476.20" stroke="#707070" stroke-width="0.95"/>
<line x1="528.40" y1="445.20" x2="510.30" y2="469.50" stroke="#707070" stroke-width="0.95"/>
</svg>
</body></html>
